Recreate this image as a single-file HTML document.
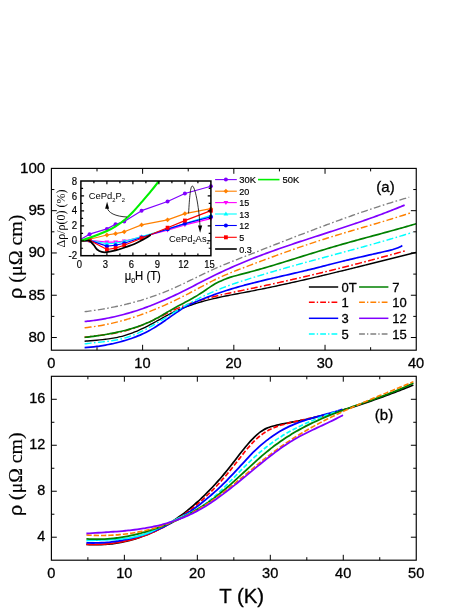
<!DOCTYPE html>
<html><head><meta charset="utf-8"><title>chart</title>
<style>html,body{margin:0;padding:0;background:#fff;width:471px;height:609px;overflow:hidden}</style>
</head><body>
<svg width="471" height="609" viewBox="0 0 471 609" style="position:absolute;left:0;top:0;will-change:transform;font-family:'Liberation Sans',sans-serif">
<style>text{stroke:#000;stroke-width:0.3px}text.n{stroke:none}text.l{stroke-width:0.18px}</style>
<rect width="471" height="609" fill="#fff"/>
<defs><clipPath id="ct"><rect x="51.40" y="168.40" width="364.85" height="181.80"/></clipPath>
<clipPath id="cb"><rect x="51.40" y="376.30" width="364.85" height="183.90"/></clipPath>
<clipPath id="ci"><rect x="80.90" y="181.00" width="130.00" height="74.70"/></clipPath>
<clipPath id="ci2"><rect x="80.90" y="181.00" width="132.50" height="74.70"/></clipPath></defs>
<g clip-path="url(#ct)" fill="none" stroke-linecap="butt" stroke-linejoin="round">
<path d="M84.60,341.18 C85.10,341.14 86.60,341.01 87.60,340.93 C88.60,340.84 89.60,340.76 90.60,340.68 C91.60,340.60 92.60,340.52 93.60,340.43 C94.60,340.35 95.60,340.27 96.60,340.18 C97.60,340.09 98.60,340.00 99.60,339.91 C100.60,339.81 101.60,339.71 102.60,339.61 C103.60,339.50 104.60,339.39 105.60,339.27 C106.60,339.14 107.60,339.02 108.60,338.88 C109.60,338.74 110.60,338.59 111.60,338.43 C112.60,338.27 113.60,338.10 114.60,337.91 C115.60,337.72 116.60,337.53 117.60,337.31 C118.60,337.10 119.60,336.87 120.60,336.63 C121.60,336.38 122.60,336.12 123.60,335.85 C124.60,335.57 125.60,335.27 126.60,334.95 C127.60,334.64 128.60,334.30 129.60,333.95 C130.60,333.60 131.60,333.23 132.60,332.84 C133.60,332.46 134.60,332.06 135.60,331.64 C136.60,331.23 137.60,330.80 138.60,330.35 C139.60,329.91 140.60,329.45 141.60,328.98 C142.60,328.52 143.60,328.03 144.60,327.54 C145.60,327.05 146.60,326.55 147.60,326.04 C148.60,325.53 149.60,325.01 150.60,324.48 C151.60,323.95 152.60,323.42 153.60,322.87 C154.60,322.33 155.60,321.78 156.60,321.23 C157.60,320.67 158.60,320.11 159.60,319.56 C160.60,319.00 161.60,318.44 162.60,317.88 C163.60,317.33 164.60,316.78 165.60,316.24 C166.60,315.70 167.60,315.16 168.60,314.64 C169.60,314.11 170.60,313.60 171.60,313.11 C172.60,312.61 173.60,312.13 174.60,311.66 C175.60,311.19 176.60,310.73 177.60,310.29 C178.60,309.84 179.60,309.41 180.60,308.99 C181.60,308.57 182.60,308.17 183.60,307.77 C184.60,307.37 185.60,306.99 186.60,306.61 C187.60,306.24 188.60,305.87 189.60,305.52 C190.60,305.17 191.60,304.82 192.60,304.49 C193.60,304.15 194.60,303.83 195.60,303.51 C196.60,303.19 197.60,302.89 198.60,302.59 C199.60,302.29 200.60,302.00 201.60,301.71 C202.60,301.43 203.60,301.16 204.60,300.89 C205.60,300.62 206.60,300.36 207.60,300.10 C208.60,299.84 209.60,299.60 210.60,299.35 C211.60,299.11 212.60,298.87 213.60,298.64 C214.60,298.41 215.60,298.18 216.60,297.96 C217.60,297.73 218.60,297.52 219.60,297.30 C220.60,297.09 221.60,296.88 222.60,296.67 C223.60,296.46 224.60,296.26 225.60,296.06 C226.60,295.86 227.60,295.66 228.60,295.47 C229.60,295.27 230.60,295.08 231.60,294.88 C232.60,294.69 233.60,294.50 234.60,294.31 C235.60,294.12 236.60,293.93 237.60,293.75 C238.60,293.56 239.60,293.37 240.60,293.18 C241.60,292.99 242.60,292.80 243.60,292.61 C244.60,292.42 245.60,292.23 246.60,292.04 C247.60,291.85 248.60,291.66 249.60,291.46 C250.60,291.27 251.60,291.07 252.60,290.88 C253.60,290.68 254.60,290.48 255.60,290.28 C256.60,290.09 257.60,289.89 258.60,289.68 C259.60,289.48 260.60,289.28 261.60,289.08 C262.60,288.87 263.60,288.67 264.60,288.46 C265.60,288.26 266.60,288.05 267.60,287.84 C268.60,287.64 269.60,287.43 270.60,287.22 C271.60,287.01 272.60,286.80 273.60,286.59 C274.60,286.37 275.60,286.16 276.60,285.95 C277.60,285.73 278.60,285.52 279.60,285.30 C280.60,285.09 281.60,284.87 282.60,284.65 C283.60,284.44 284.60,284.22 285.60,284.00 C286.60,283.78 287.60,283.56 288.60,283.34 C289.60,283.12 290.60,282.89 291.60,282.67 C292.60,282.45 293.60,282.23 294.60,282.00 C295.60,281.78 296.60,281.55 297.60,281.32 C298.60,281.10 299.60,280.87 300.60,280.64 C301.60,280.42 302.60,280.19 303.60,279.96 C304.60,279.73 305.60,279.50 306.60,279.27 C307.60,279.04 308.60,278.81 309.60,278.58 C310.60,278.34 311.60,278.11 312.60,277.88 C313.60,277.64 314.60,277.41 315.60,277.18 C316.60,276.94 317.60,276.71 318.60,276.47 C319.60,276.23 320.60,276.00 321.60,275.76 C322.60,275.52 323.60,275.29 324.60,275.05 C325.60,274.81 326.60,274.57 327.60,274.33 C328.60,274.09 329.60,273.85 330.60,273.61 C331.60,273.37 332.60,273.13 333.60,272.89 C334.60,272.65 335.60,272.41 336.60,272.16 C337.60,271.92 338.60,271.68 339.60,271.44 C340.60,271.19 341.60,270.95 342.60,270.71 C343.60,270.46 344.60,270.22 345.60,269.97 C346.60,269.73 347.60,269.48 348.60,269.24 C349.60,268.99 350.60,268.75 351.60,268.50 C352.60,268.25 353.60,268.01 354.60,267.76 C355.60,267.51 356.60,267.27 357.60,267.02 C358.60,266.77 359.60,266.52 360.60,266.28 C361.60,266.03 362.60,265.78 363.60,265.53 C364.60,265.28 365.60,265.04 366.60,264.79 C367.60,264.54 368.60,264.29 369.60,264.04 C370.60,263.79 371.60,263.54 372.60,263.29 C373.60,263.04 374.60,262.79 375.60,262.54 C376.60,262.29 377.60,262.04 378.60,261.79 C379.60,261.54 380.60,261.29 381.60,261.04 C382.60,260.79 383.60,260.54 384.60,260.29 C385.60,260.04 386.60,259.79 387.60,259.54 C388.60,259.29 389.60,259.04 390.60,258.79 C391.60,258.54 392.60,258.29 393.60,258.04 C394.60,257.79 395.60,257.54 396.60,257.29 C397.60,257.04 398.60,256.79 399.60,256.54 C400.60,256.29 401.60,256.04 402.60,255.79 C403.60,255.54 404.60,255.29 405.60,255.04 C406.60,254.79 407.60,254.54 408.60,254.29 C409.60,254.04 410.60,253.79 411.60,253.54 C412.60,253.29 413.83,252.99 414.60,252.80 C415.37,252.61 415.93,252.47 416.20,252.40" stroke="#000000" stroke-width="1.40"/>
<path d="M84.60,337.30 C85.10,337.23 86.60,337.02 87.60,336.89 C88.60,336.75 89.60,336.63 90.60,336.50 C91.60,336.37 92.60,336.24 93.60,336.12 C94.60,335.99 95.60,335.87 96.60,335.74 C97.60,335.62 98.60,335.50 99.60,335.37 C100.60,335.24 101.60,335.11 102.60,334.98 C103.60,334.85 104.60,334.71 105.60,334.57 C106.60,334.43 107.60,334.28 108.60,334.13 C109.60,333.98 110.60,333.82 111.60,333.66 C112.60,333.49 113.60,333.32 114.60,333.14 C115.60,332.96 116.60,332.77 117.60,332.57 C118.60,332.36 119.60,332.16 120.60,331.93 C121.60,331.71 122.60,331.48 123.60,331.23 C124.60,330.98 125.60,330.72 126.60,330.45 C127.60,330.17 128.60,329.89 129.60,329.59 C130.60,329.29 131.60,328.97 132.60,328.65 C133.60,328.32 134.60,327.98 135.60,327.63 C136.60,327.28 137.60,326.91 138.60,326.54 C139.60,326.16 140.60,325.78 141.60,325.38 C142.60,324.98 143.60,324.57 144.60,324.15 C145.60,323.73 146.60,323.30 147.60,322.86 C148.60,322.41 149.60,321.96 150.60,321.50 C151.60,321.04 152.60,320.56 153.60,320.08 C154.60,319.60 155.60,319.10 156.60,318.61 C157.60,318.11 158.60,317.60 159.60,317.09 C160.60,316.58 161.60,316.06 162.60,315.55 C163.60,315.04 164.60,314.52 165.60,314.02 C166.60,313.51 167.60,313.01 168.60,312.52 C169.60,312.03 170.60,311.55 171.60,311.07 C172.60,310.60 173.60,310.15 174.60,309.70 C175.60,309.25 176.60,308.81 177.60,308.39 C178.60,307.96 179.60,307.54 180.60,307.14 C181.60,306.73 182.60,306.33 183.60,305.95 C184.60,305.56 185.60,305.18 186.60,304.81 C187.60,304.44 188.60,304.09 189.60,303.73 C190.60,303.38 191.60,303.04 192.60,302.70 C193.60,302.37 194.60,302.04 195.60,301.72 C196.60,301.40 197.60,301.09 198.60,300.78 C199.60,300.48 200.60,300.18 201.60,299.89 C202.60,299.60 203.60,299.31 204.60,299.03 C205.60,298.75 206.60,298.48 207.60,298.21 C208.60,297.94 209.60,297.68 210.60,297.42 C211.60,297.17 212.60,296.91 213.60,296.67 C214.60,296.42 215.60,296.17 216.60,295.94 C217.60,295.70 218.60,295.46 219.60,295.23 C220.60,295.00 221.60,294.77 222.60,294.54 C223.60,294.32 224.60,294.10 225.60,293.88 C226.60,293.66 227.60,293.44 228.60,293.22 C229.60,293.01 230.60,292.80 231.60,292.59 C232.60,292.37 233.60,292.16 234.60,291.96 C235.60,291.75 236.60,291.54 237.60,291.33 C238.60,291.13 239.60,290.92 240.60,290.71 C241.60,290.51 242.60,290.30 243.60,290.09 C244.60,289.89 245.60,289.68 246.60,289.47 C247.60,289.27 248.60,289.06 249.60,288.85 C250.60,288.64 251.60,288.43 252.60,288.22 C253.60,288.01 254.60,287.80 255.60,287.59 C256.60,287.38 257.60,287.17 258.60,286.95 C259.60,286.74 260.60,286.53 261.60,286.31 C262.60,286.10 263.60,285.88 264.60,285.67 C265.60,285.45 266.60,285.24 267.60,285.02 C268.60,284.80 269.60,284.59 270.60,284.37 C271.60,284.15 272.60,283.93 273.60,283.71 C274.60,283.49 275.60,283.27 276.60,283.05 C277.60,282.83 278.60,282.61 279.60,282.39 C280.60,282.17 281.60,281.94 282.60,281.72 C283.60,281.50 284.60,281.27 285.60,281.05 C286.60,280.82 287.60,280.60 288.60,280.37 C289.60,280.15 290.60,279.92 291.60,279.69 C292.60,279.46 293.60,279.24 294.60,279.01 C295.60,278.78 296.60,278.55 297.60,278.32 C298.60,278.09 299.60,277.86 300.60,277.63 C301.60,277.40 302.60,277.16 303.60,276.93 C304.60,276.70 305.60,276.46 306.60,276.23 C307.60,276.00 308.60,275.76 309.60,275.53 C310.60,275.29 311.60,275.05 312.60,274.82 C313.60,274.58 314.60,274.34 315.60,274.10 C316.60,273.86 317.60,273.63 318.60,273.39 C319.60,273.15 320.60,272.90 321.60,272.66 C322.60,272.42 323.60,272.18 324.60,271.94 C325.60,271.69 326.60,271.45 327.60,271.21 C328.60,270.96 329.60,270.72 330.60,270.47 C331.60,270.23 332.60,269.98 333.60,269.73 C334.60,269.49 335.60,269.24 336.60,268.99 C337.60,268.74 338.60,268.49 339.60,268.24 C340.60,267.99 341.60,267.74 342.60,267.49 C343.60,267.24 344.60,266.99 345.60,266.74 C346.60,266.48 347.60,266.23 348.60,265.98 C349.60,265.72 350.60,265.47 351.60,265.21 C352.60,264.95 353.60,264.70 354.60,264.44 C355.60,264.18 356.60,263.93 357.60,263.67 C358.60,263.41 359.60,263.15 360.60,262.89 C361.60,262.63 362.60,262.37 363.60,262.11 C364.60,261.85 365.60,261.58 366.60,261.32 C367.60,261.06 368.60,260.79 369.60,260.53 C370.60,260.26 371.60,260.00 372.60,259.73 C373.60,259.47 374.60,259.20 375.60,258.93 C376.60,258.67 377.60,258.40 378.60,258.13 C379.60,257.86 380.60,257.59 381.60,257.32 C382.60,257.05 383.60,256.78 384.60,256.50 C385.60,256.23 386.60,255.96 387.60,255.69 C388.60,255.41 389.60,255.14 390.60,254.86 C391.60,254.59 392.60,254.31 393.60,254.04 C394.60,253.76 395.60,253.48 396.60,253.20 C397.60,252.92 398.60,252.65 399.60,252.37 C400.60,252.09 401.60,251.81 402.60,251.52 C403.60,251.24 404.87,250.89 405.60,250.68 C406.33,250.47 406.77,250.35 407.00,250.28" stroke="#ff0000" stroke-width="1.50" stroke-dasharray="7 2.4 1.6 2.4"/>
<path d="M84.60,347.57 C85.10,347.54 86.60,347.45 87.60,347.37 C88.60,347.29 89.60,347.21 90.60,347.12 C91.60,347.02 92.60,346.92 93.60,346.81 C94.60,346.70 95.60,346.59 96.60,346.46 C97.60,346.33 98.60,346.20 99.60,346.05 C100.60,345.91 101.60,345.76 102.60,345.60 C103.60,345.44 104.60,345.27 105.60,345.09 C106.60,344.91 107.60,344.72 108.60,344.52 C109.60,344.32 110.60,344.12 111.60,343.90 C112.60,343.69 113.60,343.46 114.60,343.23 C115.60,342.99 116.60,342.75 117.60,342.50 C118.60,342.24 119.60,341.98 120.60,341.71 C121.60,341.44 122.60,341.15 123.60,340.86 C124.60,340.57 125.60,340.27 126.60,339.96 C127.60,339.64 128.60,339.32 129.60,338.99 C130.60,338.65 131.60,338.31 132.60,337.95 C133.60,337.59 134.60,337.22 135.60,336.84 C136.60,336.45 137.60,336.05 138.60,335.64 C139.60,335.23 140.60,334.80 141.60,334.35 C142.60,333.91 143.60,333.44 144.60,332.96 C145.60,332.48 146.60,331.99 147.60,331.47 C148.60,330.96 149.60,330.42 150.60,329.87 C151.60,329.31 152.60,328.74 153.60,328.14 C154.60,327.55 155.60,326.93 156.60,326.29 C157.60,325.65 158.60,324.99 159.60,324.32 C160.60,323.65 161.60,322.96 162.60,322.27 C163.60,321.57 164.60,320.86 165.60,320.15 C166.60,319.44 167.60,318.72 168.60,318.01 C169.60,317.29 170.60,316.57 171.60,315.86 C172.60,315.15 173.60,314.44 174.60,313.74 C175.60,313.05 176.60,312.36 177.60,311.69 C178.60,311.01 179.60,310.35 180.60,309.72 C181.60,309.08 182.60,308.46 183.60,307.87 C184.60,307.28 185.60,306.72 186.60,306.18 C187.60,305.64 188.60,305.13 189.60,304.64 C190.60,304.15 191.60,303.68 192.60,303.23 C193.60,302.77 194.60,302.34 195.60,301.91 C196.60,301.49 197.60,301.08 198.60,300.67 C199.60,300.26 200.60,299.86 201.60,299.46 C202.60,299.06 203.60,298.66 204.60,298.27 C205.60,297.88 206.60,297.49 207.60,297.11 C208.60,296.73 209.60,296.35 210.60,295.98 C211.60,295.60 212.60,295.24 213.60,294.87 C214.60,294.51 215.60,294.15 216.60,293.80 C217.60,293.45 218.60,293.11 219.60,292.76 C220.60,292.42 221.60,292.09 222.60,291.76 C223.60,291.43 224.60,291.10 225.60,290.78 C226.60,290.46 227.60,290.15 228.60,289.83 C229.60,289.52 230.60,289.22 231.60,288.91 C232.60,288.61 233.60,288.31 234.60,288.02 C235.60,287.72 236.60,287.43 237.60,287.15 C238.60,286.86 239.60,286.58 240.60,286.30 C241.60,286.02 242.60,285.74 243.60,285.47 C244.60,285.19 245.60,284.93 246.60,284.66 C247.60,284.39 248.60,284.13 249.60,283.87 C250.60,283.61 251.60,283.35 252.60,283.09 C253.60,282.84 254.60,282.58 255.60,282.33 C256.60,282.08 257.60,281.83 258.60,281.59 C259.60,281.34 260.60,281.10 261.60,280.85 C262.60,280.61 263.60,280.37 264.60,280.13 C265.60,279.89 266.60,279.65 267.60,279.42 C268.60,279.18 269.60,278.94 270.60,278.71 C271.60,278.48 272.60,278.24 273.60,278.01 C274.60,277.78 275.60,277.55 276.60,277.31 C277.60,277.08 278.60,276.85 279.60,276.62 C280.60,276.39 281.60,276.16 282.60,275.93 C283.60,275.70 284.60,275.47 285.60,275.24 C286.60,275.01 287.60,274.78 288.60,274.55 C289.60,274.32 290.60,274.09 291.60,273.86 C292.60,273.63 293.60,273.40 294.60,273.16 C295.60,272.93 296.60,272.70 297.60,272.46 C298.60,272.23 299.60,271.99 300.60,271.75 C301.60,271.52 302.60,271.28 303.60,271.04 C304.60,270.80 305.60,270.56 306.60,270.31 C307.60,270.07 308.60,269.82 309.60,269.58 C310.60,269.33 311.60,269.08 312.60,268.83 C313.60,268.59 314.60,268.34 315.60,268.08 C316.60,267.83 317.60,267.58 318.60,267.33 C319.60,267.08 320.60,266.82 321.60,266.57 C322.60,266.32 323.60,266.06 324.60,265.81 C325.60,265.55 326.60,265.30 327.60,265.05 C328.60,264.79 329.60,264.54 330.60,264.28 C331.60,264.03 332.60,263.78 333.60,263.52 C334.60,263.27 335.60,263.02 336.60,262.77 C337.60,262.52 338.60,262.27 339.60,262.02 C340.60,261.77 341.60,261.52 342.60,261.27 C343.60,261.02 344.60,260.78 345.60,260.53 C346.60,260.29 347.60,260.05 348.60,259.81 C349.60,259.56 350.60,259.32 351.60,259.09 C352.60,258.85 353.60,258.61 354.60,258.38 C355.60,258.15 356.60,257.91 357.60,257.68 C358.60,257.45 359.60,257.22 360.60,256.99 C361.60,256.76 362.60,256.53 363.60,256.31 C364.60,256.08 365.60,255.85 366.60,255.63 C367.60,255.40 368.60,255.17 369.60,254.95 C370.60,254.72 371.60,254.50 372.60,254.27 C373.60,254.04 374.60,253.82 375.60,253.59 C376.60,253.37 377.60,253.14 378.60,252.91 C379.60,252.68 380.60,252.46 381.60,252.23 C382.60,252.00 383.60,251.77 384.60,251.54 C385.60,251.30 386.60,251.07 387.60,250.84 C388.60,250.60 389.60,250.37 390.60,250.12 C391.60,249.87 392.60,249.61 393.60,249.31 C394.60,249.01 395.60,248.69 396.60,248.31 C397.60,247.93 398.65,247.49 399.60,247.03 C400.55,246.57 401.85,245.79 402.30,245.55" stroke="#0000ff" stroke-width="1.70"/>
<path d="M84.60,343.88 C85.10,343.81 86.60,343.60 87.60,343.48 C88.60,343.35 89.60,343.23 90.60,343.12 C91.60,343.01 92.60,342.90 93.60,342.79 C94.60,342.69 95.60,342.59 96.60,342.49 C97.60,342.39 98.60,342.29 99.60,342.19 C100.60,342.09 101.60,341.99 102.60,341.88 C103.60,341.77 104.60,341.67 105.60,341.55 C106.60,341.43 107.60,341.31 108.60,341.18 C109.60,341.05 110.60,340.92 111.60,340.77 C112.60,340.62 113.60,340.46 114.60,340.28 C115.60,340.11 116.60,339.93 117.60,339.72 C118.60,339.52 119.60,339.31 120.60,339.07 C121.60,338.84 122.60,338.59 123.60,338.32 C124.60,338.05 125.60,337.76 126.60,337.44 C127.60,337.13 128.60,336.80 129.60,336.45 C130.60,336.09 131.60,335.72 132.60,335.33 C133.60,334.94 134.60,334.54 135.60,334.11 C136.60,333.69 137.60,333.25 138.60,332.79 C139.60,332.34 140.60,331.87 141.60,331.39 C142.60,330.90 143.60,330.40 144.60,329.89 C145.60,329.38 146.60,328.86 147.60,328.33 C148.60,327.79 149.60,327.25 150.60,326.69 C151.60,326.14 152.60,325.57 153.60,325.00 C154.60,324.43 155.60,323.85 156.60,323.26 C157.60,322.67 158.60,322.07 159.60,321.47 C160.60,320.87 161.60,320.26 162.60,319.65 C163.60,319.04 164.60,318.43 165.60,317.81 C166.60,317.19 167.60,316.57 168.60,315.95 C169.60,315.33 170.60,314.70 171.60,314.08 C172.60,313.45 173.60,312.83 174.60,312.20 C175.60,311.58 176.60,310.96 177.60,310.35 C178.60,309.73 179.60,309.12 180.60,308.51 C181.60,307.91 182.60,307.31 183.60,306.72 C184.60,306.13 185.60,305.54 186.60,304.97 C187.60,304.40 188.60,303.83 189.60,303.28 C190.60,302.72 191.60,302.18 192.60,301.64 C193.60,301.11 194.60,300.58 195.60,300.06 C196.60,299.54 197.60,299.03 198.60,298.53 C199.60,298.03 200.60,297.53 201.60,297.05 C202.60,296.56 203.60,296.09 204.60,295.62 C205.60,295.15 206.60,294.69 207.60,294.23 C208.60,293.78 209.60,293.33 210.60,292.89 C211.60,292.45 212.60,292.01 213.60,291.58 C214.60,291.16 215.60,290.73 216.60,290.32 C217.60,289.90 218.60,289.49 219.60,289.09 C220.60,288.68 221.60,288.29 222.60,287.89 C223.60,287.50 224.60,287.12 225.60,286.74 C226.60,286.36 227.60,285.99 228.60,285.62 C229.60,285.25 230.60,284.89 231.60,284.54 C232.60,284.19 233.60,283.84 234.60,283.50 C235.60,283.16 236.60,282.82 237.60,282.49 C238.60,282.16 239.60,281.83 240.60,281.51 C241.60,281.18 242.60,280.86 243.60,280.54 C244.60,280.22 245.60,279.90 246.60,279.59 C247.60,279.27 248.60,278.96 249.60,278.65 C250.60,278.33 251.60,278.02 252.60,277.71 C253.60,277.41 254.60,277.10 255.60,276.79 C256.60,276.49 257.60,276.18 258.60,275.88 C259.60,275.57 260.60,275.27 261.60,274.97 C262.60,274.67 263.60,274.37 264.60,274.07 C265.60,273.78 266.60,273.48 267.60,273.18 C268.60,272.89 269.60,272.59 270.60,272.30 C271.60,272.01 272.60,271.72 273.60,271.43 C274.60,271.14 275.60,270.85 276.60,270.56 C277.60,270.27 278.60,269.98 279.60,269.70 C280.60,269.41 281.60,269.12 282.60,268.84 C283.60,268.56 284.60,268.27 285.60,267.99 C286.60,267.71 287.60,267.42 288.60,267.14 C289.60,266.86 290.60,266.58 291.60,266.30 C292.60,266.02 293.60,265.75 294.60,265.47 C295.60,265.19 296.60,264.91 297.60,264.64 C298.60,264.36 299.60,264.08 300.60,263.81 C301.60,263.53 302.60,263.26 303.60,262.98 C304.60,262.71 305.60,262.44 306.60,262.16 C307.60,261.89 308.60,261.62 309.60,261.35 C310.60,261.07 311.60,260.80 312.60,260.53 C313.60,260.26 314.60,259.99 315.60,259.72 C316.60,259.45 317.60,259.18 318.60,258.91 C319.60,258.63 320.60,258.36 321.60,258.09 C322.60,257.82 323.60,257.56 324.60,257.29 C325.60,257.02 326.60,256.75 327.60,256.48 C328.60,256.21 329.60,255.94 330.60,255.67 C331.60,255.40 332.60,255.13 333.60,254.86 C334.60,254.59 335.60,254.32 336.60,254.05 C337.60,253.78 338.60,253.51 339.60,253.24 C340.60,252.97 341.60,252.70 342.60,252.43 C343.60,252.16 344.60,251.89 345.60,251.62 C346.60,251.35 347.60,251.08 348.60,250.81 C349.60,250.54 350.60,250.26 351.60,249.99 C352.60,249.72 353.60,249.45 354.60,249.17 C355.60,248.90 356.60,248.63 357.60,248.35 C358.60,248.08 359.60,247.80 360.60,247.53 C361.60,247.25 362.60,246.98 363.60,246.70 C364.60,246.42 365.60,246.15 366.60,245.87 C367.60,245.59 368.60,245.31 369.60,245.03 C370.60,244.75 371.60,244.47 372.60,244.19 C373.60,243.91 374.60,243.63 375.60,243.35 C376.60,243.07 377.60,242.78 378.60,242.50 C379.60,242.21 380.60,241.93 381.60,241.64 C382.60,241.36 383.60,241.07 384.60,240.78 C385.60,240.49 386.60,240.20 387.60,239.91 C388.60,239.62 389.60,239.33 390.60,239.04 C391.60,238.74 392.60,238.45 393.60,238.15 C394.60,237.86 395.60,237.56 396.60,237.26 C397.60,236.97 398.60,236.67 399.60,236.37 C400.60,236.07 401.60,235.76 402.60,235.46 C403.60,235.16 404.60,234.85 405.60,234.55 C406.60,234.24 407.60,233.93 408.60,233.62 C409.60,233.31 410.95,232.89 411.60,232.69 C412.25,232.49 412.35,232.46 412.50,232.41" stroke="#00ffff" stroke-width="1.45" stroke-dasharray="7 2.4 1.6 2.4"/>
<path d="M84.60,337.39 C85.10,337.33 86.60,337.18 87.60,337.06 C88.60,336.95 89.60,336.84 90.60,336.71 C91.60,336.59 92.60,336.47 93.60,336.34 C94.60,336.21 95.60,336.07 96.60,335.93 C97.60,335.79 98.60,335.64 99.60,335.49 C100.60,335.34 101.60,335.19 102.60,335.02 C103.60,334.86 104.60,334.70 105.60,334.52 C106.60,334.35 107.60,334.17 108.60,333.98 C109.60,333.80 110.60,333.61 111.60,333.41 C112.60,333.21 113.60,333.01 114.60,332.80 C115.60,332.59 116.60,332.37 117.60,332.15 C118.60,331.93 119.60,331.70 120.60,331.46 C121.60,331.22 122.60,330.98 123.60,330.73 C124.60,330.48 125.60,330.22 126.60,329.95 C127.60,329.69 128.60,329.42 129.60,329.13 C130.60,328.85 131.60,328.56 132.60,328.26 C133.60,327.95 134.60,327.64 135.60,327.32 C136.60,326.99 137.60,326.66 138.60,326.31 C139.60,325.96 140.60,325.60 141.60,325.22 C142.60,324.84 143.60,324.46 144.60,324.05 C145.60,323.64 146.60,323.22 147.60,322.78 C148.60,322.35 149.60,321.89 150.60,321.42 C151.60,320.94 152.60,320.45 153.60,319.94 C154.60,319.43 155.60,318.90 156.60,318.35 C157.60,317.81 158.60,317.24 159.60,316.66 C160.60,316.09 161.60,315.50 162.60,314.91 C163.60,314.32 164.60,313.72 165.60,313.13 C166.60,312.54 167.60,311.94 168.60,311.36 C169.60,310.78 170.60,310.20 171.60,309.64 C172.60,309.08 173.60,308.52 174.60,307.98 C175.60,307.43 176.60,306.89 177.60,306.36 C178.60,305.82 179.60,305.29 180.60,304.76 C181.60,304.23 182.60,303.70 183.60,303.17 C184.60,302.64 185.60,302.10 186.60,301.57 C187.60,301.03 188.60,300.48 189.60,299.93 C190.60,299.38 191.60,298.82 192.60,298.24 C193.60,297.67 194.60,297.09 195.60,296.49 C196.60,295.89 197.60,295.28 198.60,294.65 C199.60,294.02 200.60,293.37 201.60,292.71 C202.60,292.05 203.60,291.37 204.60,290.69 C205.60,290.02 206.60,289.33 207.60,288.66 C208.60,287.98 209.60,287.31 210.60,286.66 C211.60,286.02 212.60,285.38 213.60,284.78 C214.60,284.18 215.60,283.61 216.60,283.07 C217.60,282.53 218.60,282.03 219.60,281.55 C220.60,281.07 221.60,280.62 222.60,280.19 C223.60,279.77 224.60,279.37 225.60,278.99 C226.60,278.61 227.60,278.25 228.60,277.91 C229.60,277.57 230.60,277.25 231.60,276.93 C232.60,276.62 233.60,276.33 234.60,276.04 C235.60,275.75 236.60,275.48 237.60,275.21 C238.60,274.94 239.60,274.68 240.60,274.42 C241.60,274.16 242.60,273.90 243.60,273.64 C244.60,273.38 245.60,273.12 246.60,272.86 C247.60,272.60 248.60,272.33 249.60,272.06 C250.60,271.80 251.60,271.52 252.60,271.25 C253.60,270.98 254.60,270.70 255.60,270.42 C256.60,270.15 257.60,269.86 258.60,269.58 C259.60,269.30 260.60,269.01 261.60,268.73 C262.60,268.44 263.60,268.15 264.60,267.86 C265.60,267.57 266.60,267.28 267.60,266.98 C268.60,266.69 269.60,266.39 270.60,266.10 C271.60,265.80 272.60,265.50 273.60,265.20 C274.60,264.90 275.60,264.60 276.60,264.29 C277.60,263.99 278.60,263.69 279.60,263.38 C280.60,263.08 281.60,262.77 282.60,262.46 C283.60,262.15 284.60,261.85 285.60,261.54 C286.60,261.23 287.60,260.92 288.60,260.61 C289.60,260.30 290.60,259.99 291.60,259.67 C292.60,259.36 293.60,259.05 294.60,258.74 C295.60,258.43 296.60,258.11 297.60,257.80 C298.60,257.49 299.60,257.18 300.60,256.86 C301.60,256.55 302.60,256.24 303.60,255.92 C304.60,255.61 305.60,255.30 306.60,254.99 C307.60,254.67 308.60,254.36 309.60,254.05 C310.60,253.74 311.60,253.43 312.60,253.12 C313.60,252.81 314.60,252.50 315.60,252.19 C316.60,251.88 317.60,251.57 318.60,251.27 C319.60,250.96 320.60,250.65 321.60,250.35 C322.60,250.04 323.60,249.74 324.60,249.44 C325.60,249.14 326.60,248.83 327.60,248.53 C328.60,248.23 329.60,247.94 330.60,247.64 C331.60,247.34 332.60,247.05 333.60,246.75 C334.60,246.46 335.60,246.17 336.60,245.88 C337.60,245.59 338.60,245.30 339.60,245.01 C340.60,244.73 341.60,244.44 342.60,244.16 C343.60,243.87 344.60,243.59 345.60,243.31 C346.60,243.03 347.60,242.75 348.60,242.47 C349.60,242.19 350.60,241.92 351.60,241.64 C352.60,241.36 353.60,241.09 354.60,240.82 C355.60,240.54 356.60,240.27 357.60,239.99 C358.60,239.72 359.60,239.45 360.60,239.18 C361.60,238.91 362.60,238.64 363.60,238.37 C364.60,238.09 365.60,237.82 366.60,237.55 C367.60,237.28 368.60,237.01 369.60,236.75 C370.60,236.48 371.60,236.21 372.60,235.94 C373.60,235.67 374.60,235.40 375.60,235.13 C376.60,234.86 377.60,234.59 378.60,234.32 C379.60,234.05 380.60,233.78 381.60,233.51 C382.60,233.24 383.60,232.97 384.60,232.69 C385.60,232.42 386.60,232.15 387.60,231.87 C388.60,231.60 389.60,231.33 390.60,231.05 C391.60,230.78 392.60,230.50 393.60,230.22 C394.60,229.95 395.60,229.67 396.60,229.39 C397.60,229.11 398.60,228.83 399.60,228.55 C400.60,228.27 401.60,227.98 402.60,227.70 C403.60,227.41 404.60,227.13 405.60,226.84 C406.60,226.55 407.60,226.26 408.60,225.97 C409.60,225.68 410.60,225.38 411.60,225.09 C412.60,224.79 413.83,224.43 414.60,224.20 C415.37,223.97 415.93,223.80 416.20,223.72" stroke="#008000" stroke-width="1.70"/>
<path d="M84.60,327.72 C85.10,327.67 86.60,327.53 87.60,327.42 C88.60,327.31 89.60,327.19 90.60,327.07 C91.60,326.94 92.60,326.81 93.60,326.67 C94.60,326.53 95.60,326.38 96.60,326.23 C97.60,326.08 98.60,325.91 99.60,325.74 C100.60,325.57 101.60,325.40 102.60,325.21 C103.60,325.03 104.60,324.84 105.60,324.64 C106.60,324.44 107.60,324.23 108.60,324.02 C109.60,323.81 110.60,323.59 111.60,323.36 C112.60,323.13 113.60,322.90 114.60,322.66 C115.60,322.41 116.60,322.17 117.60,321.91 C118.60,321.66 119.60,321.39 120.60,321.12 C121.60,320.86 122.60,320.58 123.60,320.30 C124.60,320.02 125.60,319.73 126.60,319.43 C127.60,319.14 128.60,318.83 129.60,318.53 C130.60,318.22 131.60,317.90 132.60,317.58 C133.60,317.26 134.60,316.93 135.60,316.60 C136.60,316.26 137.60,315.92 138.60,315.57 C139.60,315.23 140.60,314.87 141.60,314.52 C142.60,314.16 143.60,313.79 144.60,313.42 C145.60,313.05 146.60,312.67 147.60,312.29 C148.60,311.90 149.60,311.51 150.60,311.12 C151.60,310.72 152.60,310.32 153.60,309.92 C154.60,309.51 155.60,309.10 156.60,308.68 C157.60,308.26 158.60,307.83 159.60,307.40 C160.60,306.97 161.60,306.54 162.60,306.10 C163.60,305.66 164.60,305.21 165.60,304.76 C166.60,304.31 167.60,303.85 168.60,303.39 C169.60,302.93 170.60,302.46 171.60,301.98 C172.60,301.51 173.60,301.03 174.60,300.55 C175.60,300.07 176.60,299.58 177.60,299.09 C178.60,298.59 179.60,298.10 180.60,297.60 C181.60,297.10 182.60,296.59 183.60,296.09 C184.60,295.58 185.60,295.07 186.60,294.55 C187.60,294.04 188.60,293.52 189.60,293.00 C190.60,292.48 191.60,291.96 192.60,291.43 C193.60,290.91 194.60,290.38 195.60,289.85 C196.60,289.32 197.60,288.79 198.60,288.26 C199.60,287.73 200.60,287.19 201.60,286.66 C202.60,286.13 203.60,285.59 204.60,285.06 C205.60,284.53 206.60,284.00 207.60,283.48 C208.60,282.95 209.60,282.43 210.60,281.92 C211.60,281.41 212.60,280.90 213.60,280.41 C214.60,279.91 215.60,279.42 216.60,278.95 C217.60,278.47 218.60,278.00 219.60,277.54 C220.60,277.08 221.60,276.63 222.60,276.19 C223.60,275.75 224.60,275.31 225.60,274.88 C226.60,274.46 227.60,274.04 228.60,273.62 C229.60,273.20 230.60,272.79 231.60,272.39 C232.60,271.98 233.60,271.58 234.60,271.19 C235.60,270.79 236.60,270.40 237.60,270.01 C238.60,269.62 239.60,269.24 240.60,268.85 C241.60,268.47 242.60,268.08 243.60,267.70 C244.60,267.32 245.60,266.94 246.60,266.56 C247.60,266.18 248.60,265.80 249.60,265.42 C250.60,265.04 251.60,264.67 252.60,264.29 C253.60,263.91 254.60,263.53 255.60,263.16 C256.60,262.78 257.60,262.41 258.60,262.03 C259.60,261.66 260.60,261.28 261.60,260.91 C262.60,260.54 263.60,260.16 264.60,259.79 C265.60,259.42 266.60,259.05 267.60,258.68 C268.60,258.31 269.60,257.94 270.60,257.57 C271.60,257.20 272.60,256.84 273.60,256.47 C274.60,256.10 275.60,255.74 276.60,255.38 C277.60,255.01 278.60,254.65 279.60,254.29 C280.60,253.92 281.60,253.56 282.60,253.20 C283.60,252.85 284.60,252.49 285.60,252.13 C286.60,251.77 287.60,251.42 288.60,251.06 C289.60,250.71 290.60,250.36 291.60,250.00 C292.60,249.65 293.60,249.30 294.60,248.95 C295.60,248.60 296.60,248.26 297.60,247.91 C298.60,247.57 299.60,247.22 300.60,246.88 C301.60,246.54 302.60,246.19 303.60,245.85 C304.60,245.51 305.60,245.18 306.60,244.84 C307.60,244.50 308.60,244.17 309.60,243.83 C310.60,243.50 311.60,243.17 312.60,242.84 C313.60,242.51 314.60,242.18 315.60,241.86 C316.60,241.53 317.60,241.21 318.60,240.88 C319.60,240.56 320.60,240.24 321.60,239.92 C322.60,239.60 323.60,239.29 324.60,238.97 C325.60,238.66 326.60,238.34 327.60,238.03 C328.60,237.72 329.60,237.41 330.60,237.10 C331.60,236.79 332.60,236.48 333.60,236.18 C334.60,235.87 335.60,235.57 336.60,235.26 C337.60,234.96 338.60,234.66 339.60,234.35 C340.60,234.05 341.60,233.75 342.60,233.45 C343.60,233.15 344.60,232.85 345.60,232.56 C346.60,232.26 347.60,231.96 348.60,231.66 C349.60,231.37 350.60,231.07 351.60,230.78 C352.60,230.48 353.60,230.18 354.60,229.89 C355.60,229.60 356.60,229.30 357.60,229.01 C358.60,228.71 359.60,228.42 360.60,228.12 C361.60,227.83 362.60,227.54 363.60,227.24 C364.60,226.95 365.60,226.65 366.60,226.36 C367.60,226.07 368.60,225.77 369.60,225.48 C370.60,225.18 371.60,224.89 372.60,224.59 C373.60,224.30 374.60,224.00 375.60,223.70 C376.60,223.41 377.60,223.11 378.60,222.81 C379.60,222.51 380.60,222.22 381.60,221.92 C382.60,221.62 383.60,221.32 384.60,221.02 C385.60,220.71 386.60,220.41 387.60,220.11 C388.60,219.80 389.60,219.50 390.60,219.19 C391.60,218.89 392.60,218.58 393.60,218.27 C394.60,217.96 395.60,217.65 396.60,217.34 C397.60,217.03 398.60,216.72 399.60,216.40 C400.60,216.09 401.60,215.77 402.60,215.45 C403.60,215.13 404.60,214.81 405.60,214.49 C406.60,214.17 407.67,213.82 408.60,213.52 C409.53,213.21 410.77,212.81 411.20,212.67" stroke="#ff8000" stroke-width="1.45" stroke-dasharray="7 2.4 1.6 2.4"/>
<path d="M84.60,321.48 C85.10,321.43 86.60,321.29 87.60,321.19 C88.60,321.09 89.60,320.98 90.60,320.86 C91.60,320.74 92.60,320.62 93.60,320.49 C94.60,320.35 95.60,320.22 96.60,320.07 C97.60,319.92 98.60,319.77 99.60,319.61 C100.60,319.45 101.60,319.29 102.60,319.11 C103.60,318.94 104.60,318.76 105.60,318.57 C106.60,318.39 107.60,318.19 108.60,317.99 C109.60,317.79 110.60,317.58 111.60,317.37 C112.60,317.15 113.60,316.93 114.60,316.71 C115.60,316.48 116.60,316.24 117.60,316.00 C118.60,315.76 119.60,315.51 120.60,315.26 C121.60,315.00 122.60,314.74 123.60,314.48 C124.60,314.21 125.60,313.93 126.60,313.65 C127.60,313.37 128.60,313.08 129.60,312.79 C130.60,312.50 131.60,312.20 132.60,311.89 C133.60,311.58 134.60,311.27 135.60,310.95 C136.60,310.63 137.60,310.31 138.60,309.97 C139.60,309.64 140.60,309.30 141.60,308.96 C142.60,308.61 143.60,308.26 144.60,307.91 C145.60,307.55 146.60,307.18 147.60,306.81 C148.60,306.44 149.60,306.07 150.60,305.69 C151.60,305.30 152.60,304.92 153.60,304.52 C154.60,304.13 155.60,303.73 156.60,303.32 C157.60,302.91 158.60,302.50 159.60,302.08 C160.60,301.66 161.60,301.24 162.60,300.81 C163.60,300.38 164.60,299.94 165.60,299.50 C166.60,299.06 167.60,298.61 168.60,298.15 C169.60,297.70 170.60,297.24 171.60,296.77 C172.60,296.31 173.60,295.84 174.60,295.36 C175.60,294.88 176.60,294.40 177.60,293.92 C178.60,293.43 179.60,292.94 180.60,292.45 C181.60,291.96 182.60,291.46 183.60,290.96 C184.60,290.46 185.60,289.96 186.60,289.45 C187.60,288.95 188.60,288.44 189.60,287.93 C190.60,287.42 191.60,286.91 192.60,286.40 C193.60,285.89 194.60,285.38 195.60,284.87 C196.60,284.36 197.60,283.84 198.60,283.33 C199.60,282.82 200.60,282.31 201.60,281.80 C202.60,281.29 203.60,280.78 204.60,280.27 C205.60,279.77 206.60,279.26 207.60,278.76 C208.60,278.25 209.60,277.75 210.60,277.26 C211.60,276.76 212.60,276.26 213.60,275.77 C214.60,275.28 215.60,274.80 216.60,274.31 C217.60,273.83 218.60,273.35 219.60,272.88 C220.60,272.40 221.60,271.93 222.60,271.47 C223.60,271.00 224.60,270.54 225.60,270.08 C226.60,269.62 227.60,269.16 228.60,268.71 C229.60,268.26 230.60,267.81 231.60,267.37 C232.60,266.93 233.60,266.49 234.60,266.05 C235.60,265.61 236.60,265.18 237.60,264.75 C238.60,264.32 239.60,263.90 240.60,263.48 C241.60,263.05 242.60,262.63 243.60,262.22 C244.60,261.80 245.60,261.39 246.60,260.99 C247.60,260.58 248.60,260.17 249.60,259.77 C250.60,259.37 251.60,258.97 252.60,258.58 C253.60,258.18 254.60,257.79 255.60,257.40 C256.60,257.01 257.60,256.62 258.60,256.24 C259.60,255.86 260.60,255.48 261.60,255.10 C262.60,254.72 263.60,254.35 264.60,253.97 C265.60,253.60 266.60,253.23 267.60,252.86 C268.60,252.49 269.60,252.13 270.60,251.77 C271.60,251.40 272.60,251.04 273.60,250.68 C274.60,250.33 275.60,249.97 276.60,249.62 C277.60,249.26 278.60,248.91 279.60,248.56 C280.60,248.21 281.60,247.86 282.60,247.51 C283.60,247.17 284.60,246.82 285.60,246.48 C286.60,246.13 287.60,245.79 288.60,245.45 C289.60,245.11 290.60,244.77 291.60,244.44 C292.60,244.10 293.60,243.76 294.60,243.43 C295.60,243.09 296.60,242.76 297.60,242.43 C298.60,242.10 299.60,241.76 300.60,241.43 C301.60,241.10 302.60,240.78 303.60,240.45 C304.60,240.12 305.60,239.79 306.60,239.46 C307.60,239.14 308.60,238.81 309.60,238.48 C310.60,238.16 311.60,237.83 312.60,237.51 C313.60,237.18 314.60,236.86 315.60,236.54 C316.60,236.21 317.60,235.89 318.60,235.57 C319.60,235.24 320.60,234.92 321.60,234.60 C322.60,234.27 323.60,233.95 324.60,233.63 C325.60,233.30 326.60,232.98 327.60,232.65 C328.60,232.33 329.60,232.01 330.60,231.68 C331.60,231.36 332.60,231.03 333.60,230.71 C334.60,230.38 335.60,230.06 336.60,229.73 C337.60,229.41 338.60,229.08 339.60,228.75 C340.60,228.42 341.60,228.10 342.60,227.77 C343.60,227.44 344.60,227.11 345.60,226.78 C346.60,226.44 347.60,226.11 348.60,225.78 C349.60,225.45 350.60,225.11 351.60,224.78 C352.60,224.44 353.60,224.10 354.60,223.76 C355.60,223.42 356.60,223.09 357.60,222.74 C358.60,222.40 359.60,222.06 360.60,221.71 C361.60,221.37 362.60,221.02 363.60,220.67 C364.60,220.33 365.60,219.98 366.60,219.62 C367.60,219.27 368.60,218.92 369.60,218.56 C370.60,218.21 371.60,217.85 372.60,217.49 C373.60,217.13 374.60,216.76 375.60,216.40 C376.60,216.03 377.60,215.67 378.60,215.30 C379.60,214.93 380.60,214.55 381.60,214.18 C382.60,213.80 383.60,213.43 384.60,213.05 C385.60,212.67 386.60,212.28 387.60,211.90 C388.60,211.51 389.60,211.12 390.60,210.73 C391.60,210.34 392.60,209.94 393.60,209.55 C394.60,209.15 395.60,208.75 396.60,208.34 C397.60,207.94 398.60,207.53 399.60,207.12 C400.60,206.71 401.77,206.22 402.60,205.87 C403.43,205.53 404.27,205.17 404.60,205.03" stroke="#8000ff" stroke-width="1.70"/>
<path d="M84.60,311.70 C85.10,311.64 86.60,311.45 87.60,311.32 C88.60,311.19 89.60,311.06 90.60,310.92 C91.60,310.79 92.60,310.65 93.60,310.50 C94.60,310.36 95.60,310.21 96.60,310.06 C97.60,309.91 98.60,309.75 99.60,309.59 C100.60,309.43 101.60,309.27 102.60,309.10 C103.60,308.93 104.60,308.76 105.60,308.58 C106.60,308.40 107.60,308.22 108.60,308.03 C109.60,307.84 110.60,307.65 111.60,307.46 C112.60,307.26 113.60,307.06 114.60,306.85 C115.60,306.65 116.60,306.44 117.60,306.22 C118.60,306.01 119.60,305.79 120.60,305.56 C121.60,305.34 122.60,305.11 123.60,304.87 C124.60,304.64 125.60,304.40 126.60,304.15 C127.60,303.90 128.60,303.65 129.60,303.40 C130.60,303.14 131.60,302.88 132.60,302.61 C133.60,302.34 134.60,302.07 135.60,301.79 C136.60,301.51 137.60,301.22 138.60,300.93 C139.60,300.64 140.60,300.35 141.60,300.04 C142.60,299.74 143.60,299.43 144.60,299.12 C145.60,298.80 146.60,298.48 147.60,298.16 C148.60,297.83 149.60,297.50 150.60,297.16 C151.60,296.82 152.60,296.47 153.60,296.12 C154.60,295.77 155.60,295.41 156.60,295.04 C157.60,294.68 158.60,294.31 159.60,293.93 C160.60,293.55 161.60,293.16 162.60,292.77 C163.60,292.38 164.60,291.98 165.60,291.58 C166.60,291.17 167.60,290.76 168.60,290.34 C169.60,289.92 170.60,289.49 171.60,289.06 C172.60,288.62 173.60,288.18 174.60,287.73 C175.60,287.29 176.60,286.84 177.60,286.38 C178.60,285.92 179.60,285.46 180.60,284.99 C181.60,284.52 182.60,284.05 183.60,283.58 C184.60,283.11 185.60,282.63 186.60,282.15 C187.60,281.67 188.60,281.19 189.60,280.70 C190.60,280.22 191.60,279.73 192.60,279.25 C193.60,278.76 194.60,278.28 195.60,277.79 C196.60,277.30 197.60,276.82 198.60,276.33 C199.60,275.85 200.60,275.36 201.60,274.88 C202.60,274.40 203.60,273.92 204.60,273.44 C205.60,272.97 206.60,272.49 207.60,272.02 C208.60,271.55 209.60,271.08 210.60,270.62 C211.60,270.16 212.60,269.70 213.60,269.25 C214.60,268.80 215.60,268.35 216.60,267.91 C217.60,267.47 218.60,267.04 219.60,266.61 C220.60,266.17 221.60,265.75 222.60,265.33 C223.60,264.91 224.60,264.49 225.60,264.08 C226.60,263.67 227.60,263.26 228.60,262.85 C229.60,262.44 230.60,262.04 231.60,261.64 C232.60,261.24 233.60,260.84 234.60,260.45 C235.60,260.05 236.60,259.66 237.60,259.26 C238.60,258.87 239.60,258.48 240.60,258.09 C241.60,257.70 242.60,257.31 243.60,256.92 C244.60,256.53 245.60,256.14 246.60,255.75 C247.60,255.36 248.60,254.97 249.60,254.58 C250.60,254.18 251.60,253.79 252.60,253.40 C253.60,253.01 254.60,252.62 255.60,252.23 C256.60,251.84 257.60,251.44 258.60,251.05 C259.60,250.66 260.60,250.27 261.60,249.88 C262.60,249.48 263.60,249.09 264.60,248.70 C265.60,248.31 266.60,247.92 267.60,247.52 C268.60,247.13 269.60,246.74 270.60,246.35 C271.60,245.96 272.60,245.57 273.60,245.17 C274.60,244.78 275.60,244.39 276.60,244.00 C277.60,243.61 278.60,243.22 279.60,242.83 C280.60,242.44 281.60,242.05 282.60,241.66 C283.60,241.27 284.60,240.88 285.60,240.49 C286.60,240.10 287.60,239.71 288.60,239.32 C289.60,238.93 290.60,238.54 291.60,238.15 C292.60,237.76 293.60,237.38 294.60,236.99 C295.60,236.60 296.60,236.21 297.60,235.83 C298.60,235.44 299.60,235.06 300.60,234.67 C301.60,234.29 302.60,233.90 303.60,233.52 C304.60,233.13 305.60,232.75 306.60,232.37 C307.60,231.99 308.60,231.60 309.60,231.22 C310.60,230.84 311.60,230.46 312.60,230.08 C313.60,229.70 314.60,229.32 315.60,228.94 C316.60,228.56 317.60,228.19 318.60,227.81 C319.60,227.43 320.60,227.06 321.60,226.68 C322.60,226.31 323.60,225.93 324.60,225.56 C325.60,225.19 326.60,224.81 327.60,224.44 C328.60,224.07 329.60,223.70 330.60,223.33 C331.60,222.96 332.60,222.59 333.60,222.23 C334.60,221.86 335.60,221.49 336.60,221.13 C337.60,220.76 338.60,220.40 339.60,220.04 C340.60,219.68 341.60,219.31 342.60,218.95 C343.60,218.59 344.60,218.23 345.60,217.88 C346.60,217.52 347.60,217.16 348.60,216.81 C349.60,216.45 350.60,216.10 351.60,215.74 C352.60,215.39 353.60,215.04 354.60,214.69 C355.60,214.34 356.60,213.99 357.60,213.65 C358.60,213.30 359.60,212.95 360.60,212.61 C361.60,212.26 362.60,211.92 363.60,211.58 C364.60,211.24 365.60,210.90 366.60,210.56 C367.60,210.22 368.60,209.89 369.60,209.55 C370.60,209.22 371.60,208.89 372.60,208.55 C373.60,208.22 374.60,207.89 375.60,207.57 C376.60,207.24 377.60,206.91 378.60,206.59 C379.60,206.26 380.60,205.94 381.60,205.62 C382.60,205.30 383.60,204.98 384.60,204.66 C385.60,204.34 386.60,204.03 387.60,203.71 C388.60,203.40 389.60,203.09 390.60,202.78 C391.60,202.47 392.60,202.16 393.60,201.86 C394.60,201.55 395.60,201.25 396.60,200.95 C397.60,200.64 398.60,200.34 399.60,200.05 C400.60,199.75 401.60,199.45 402.60,199.16 C403.60,198.87 404.60,198.58 405.60,198.29 C406.60,198.00 408.00,197.60 408.60,197.43 C409.20,197.26 409.10,197.28 409.20,197.26" stroke="#808080" stroke-width="1.35" stroke-dasharray="7 2.4 1.6 2.4"/>
</g>
<g clip-path="url(#cb)" fill="none" stroke-linecap="butt" stroke-linejoin="round">
<path d="M86.40,544.44 C86.90,544.46 88.40,544.55 89.40,544.59 C90.40,544.64 91.40,544.67 92.40,544.69 C93.40,544.71 94.40,544.73 95.40,544.73 C96.40,544.73 97.40,544.72 98.40,544.70 C99.40,544.68 100.40,544.65 101.40,544.61 C102.40,544.57 103.40,544.51 104.40,544.45 C105.40,544.39 106.40,544.31 107.40,544.23 C108.40,544.14 109.40,544.05 110.40,543.94 C111.40,543.83 112.40,543.72 113.40,543.58 C114.40,543.45 115.40,543.31 116.40,543.16 C117.40,543.01 118.40,542.84 119.40,542.66 C120.40,542.49 121.40,542.30 122.40,542.10 C123.40,541.90 124.40,541.69 125.40,541.46 C126.40,541.24 127.40,541.00 128.40,540.75 C129.40,540.50 130.40,540.24 131.40,539.97 C132.40,539.69 133.40,539.41 134.40,539.11 C135.40,538.81 136.40,538.50 137.40,538.17 C138.40,537.85 139.40,537.51 140.40,537.16 C141.40,536.81 142.40,536.45 143.40,536.07 C144.40,535.69 145.40,535.30 146.40,534.90 C147.40,534.50 148.40,534.08 149.40,533.65 C150.40,533.22 151.40,532.78 152.40,532.32 C153.40,531.87 154.40,531.40 155.40,530.91 C156.40,530.43 157.40,529.93 158.40,529.42 C159.40,528.91 160.40,528.38 161.40,527.84 C162.40,527.30 163.40,526.75 164.40,526.18 C165.40,525.61 166.40,525.03 167.40,524.43 C168.40,523.83 169.40,523.22 170.40,522.59 C171.40,521.97 172.40,521.33 173.40,520.67 C174.40,520.02 175.40,519.35 176.40,518.66 C177.40,517.97 178.40,517.27 179.40,516.56 C180.40,515.84 181.40,515.11 182.40,514.36 C183.40,513.62 184.40,512.86 185.40,512.08 C186.40,511.30 187.40,510.51 188.40,509.70 C189.40,508.89 190.40,508.07 191.40,507.23 C192.40,506.39 193.40,505.54 194.40,504.67 C195.40,503.79 196.40,502.91 197.40,502.00 C198.40,501.10 199.40,500.18 200.40,499.25 C201.40,498.31 202.40,497.36 203.40,496.39 C204.40,495.42 205.40,494.44 206.40,493.44 C207.40,492.44 208.40,491.42 209.40,490.39 C210.40,489.36 211.40,488.31 212.40,487.24 C213.40,486.17 214.40,485.09 215.40,483.99 C216.40,482.89 217.40,481.77 218.40,480.64 C219.40,479.51 220.40,478.36 221.40,477.19 C222.40,476.02 223.40,474.84 224.40,473.63 C225.40,472.43 226.40,471.21 227.40,469.98 C228.40,468.74 229.40,467.49 230.40,466.22 C231.40,464.95 232.40,463.66 233.40,462.37 C234.40,461.07 235.40,459.77 236.40,458.47 C237.40,457.17 238.40,455.87 239.40,454.58 C240.40,453.29 241.40,452.01 242.40,450.75 C243.40,449.49 244.40,448.24 245.40,447.03 C246.40,445.81 247.40,444.62 248.40,443.47 C249.40,442.32 250.40,441.19 251.40,440.12 C252.40,439.05 253.40,438.02 254.40,437.05 C255.40,436.07 256.40,435.15 257.40,434.29 C258.40,433.43 259.40,432.63 260.40,431.90 C261.40,431.17 262.40,430.52 263.40,429.93 C264.40,429.35 265.40,428.85 266.40,428.40 C267.40,427.95 268.40,427.57 269.40,427.22 C270.40,426.87 271.40,426.58 272.40,426.29 C273.40,426.01 274.40,425.77 275.40,425.53 C276.40,425.29 277.40,425.06 278.40,424.84 C279.40,424.62 280.40,424.40 281.40,424.19 C282.40,423.98 283.40,423.78 284.40,423.57 C285.40,423.37 286.40,423.18 287.40,422.98 C288.40,422.79 289.40,422.60 290.40,422.41 C291.40,422.22 292.40,422.04 293.40,421.85 C294.40,421.66 295.40,421.47 296.40,421.29 C297.40,421.10 298.40,420.91 299.40,420.72 C300.40,420.52 301.40,420.33 302.40,420.13 C303.40,419.94 304.40,419.73 305.40,419.53 C306.40,419.32 307.40,419.11 308.40,418.90 C309.40,418.68 310.40,418.47 311.40,418.25 C312.40,418.02 313.40,417.80 314.40,417.57 C315.40,417.34 316.40,417.11 317.40,416.87 C318.40,416.63 319.40,416.39 320.40,416.15 C321.40,415.90 322.40,415.66 323.40,415.40 C324.40,415.15 325.40,414.90 326.40,414.64 C327.40,414.38 328.40,414.12 329.40,413.85 C330.40,413.59 331.40,413.32 332.40,413.05 C333.40,412.77 334.40,412.50 335.40,412.22 C336.40,411.94 337.40,411.66 338.40,411.37 C339.40,411.09 340.40,410.80 341.40,410.51 C342.40,410.21 343.40,409.92 344.40,409.62 C345.40,409.32 346.40,409.02 347.40,408.72 C348.40,408.41 349.40,408.11 350.40,407.80 C351.40,407.49 352.40,407.17 353.40,406.86 C354.40,406.54 355.40,406.22 356.40,405.90 C357.40,405.58 358.40,405.25 359.40,404.93 C360.40,404.60 361.40,404.27 362.40,403.94 C363.40,403.60 364.40,403.27 365.40,402.93 C366.40,402.59 367.40,402.25 368.40,401.91 C369.40,401.57 370.40,401.22 371.40,400.88 C372.40,400.53 373.40,400.18 374.40,399.82 C375.40,399.47 376.40,399.12 377.40,398.76 C378.40,398.40 379.40,398.04 380.40,397.68 C381.40,397.32 382.40,396.96 383.40,396.59 C384.40,396.22 385.40,395.86 386.40,395.48 C387.40,395.11 388.40,394.74 389.40,394.37 C390.40,393.99 391.40,393.62 392.40,393.24 C393.40,392.86 394.40,392.48 395.40,392.10 C396.40,391.72 397.40,391.33 398.40,390.95 C399.40,390.56 400.40,390.17 401.40,389.78 C402.40,389.39 403.40,389.00 404.40,388.61 C405.40,388.22 406.40,387.82 407.40,387.43 C408.40,387.03 409.40,386.63 410.40,386.24 C411.40,385.84 412.90,385.23 413.40,385.03" stroke="#000000" stroke-width="1.70"/>
<path d="M86.40,544.32 C86.90,544.34 88.40,544.39 89.40,544.42 C90.40,544.44 91.40,544.45 92.40,544.46 C93.40,544.46 94.40,544.46 95.40,544.44 C96.40,544.43 97.40,544.41 98.40,544.38 C99.40,544.34 100.40,544.30 101.40,544.25 C102.40,544.20 103.40,544.14 104.40,544.07 C105.40,543.99 106.40,543.91 107.40,543.82 C108.40,543.73 109.40,543.63 110.40,543.52 C111.40,543.41 112.40,543.29 113.40,543.16 C114.40,543.03 115.40,542.88 116.40,542.73 C117.40,542.58 118.40,542.42 119.40,542.24 C120.40,542.07 121.40,541.89 122.40,541.69 C123.40,541.50 124.40,541.29 125.40,541.07 C126.40,540.86 127.40,540.63 128.40,540.39 C129.40,540.15 130.40,539.90 131.40,539.64 C132.40,539.38 133.40,539.11 134.40,538.82 C135.40,538.54 136.40,538.24 137.40,537.94 C138.40,537.63 139.40,537.31 140.40,536.98 C141.40,536.65 142.40,536.31 143.40,535.95 C144.40,535.60 145.40,535.23 146.40,534.85 C147.40,534.47 148.40,534.08 149.40,533.68 C150.40,533.27 151.40,532.86 152.40,532.43 C153.40,532.00 154.40,531.56 155.40,531.11 C156.40,530.65 157.40,530.19 158.40,529.71 C159.40,529.23 160.40,528.73 161.40,528.23 C162.40,527.72 163.40,527.21 164.40,526.67 C165.40,526.14 166.40,525.60 167.40,525.04 C168.40,524.48 169.40,523.91 170.40,523.32 C171.40,522.74 172.40,522.14 173.40,521.53 C174.40,520.92 175.40,520.29 176.40,519.65 C177.40,519.01 178.90,518.01 179.40,517.69" stroke="#ff0000" stroke-width="1.70"/>
<path d="M179.40,517.69 C179.90,517.35 181.40,516.34 182.40,515.64 C183.40,514.94 184.40,514.23 185.40,513.51 C186.40,512.78 187.40,512.04 188.40,511.29 C189.40,510.54 190.40,509.77 191.40,508.98 C192.40,508.20 193.40,507.40 194.40,506.59 C195.40,505.77 196.40,504.95 197.40,504.10 C198.40,503.26 199.40,502.40 200.40,501.53 C201.40,500.65 202.40,499.77 203.40,498.86 C204.40,497.96 205.40,497.04 206.40,496.10 C207.40,495.16 208.40,494.21 209.40,493.24 C210.40,492.27 211.40,491.29 212.40,490.28 C213.40,489.28 214.40,488.25 215.40,487.21 C216.40,486.17 217.40,485.11 218.40,484.04 C219.40,482.96 220.40,481.86 221.40,480.74 C222.40,479.62 223.40,478.49 224.40,477.33 C225.40,476.17 226.40,474.99 227.40,473.79 C228.40,472.59 229.40,471.37 230.40,470.13 C231.40,468.89 232.40,467.62 233.40,466.34 C234.40,465.07 235.40,463.78 236.40,462.49 C237.40,461.20 238.40,459.90 239.40,458.62 C240.40,457.34 241.40,456.05 242.40,454.79 C243.40,453.53 244.40,452.27 245.40,451.05 C246.40,449.83 247.40,448.62 248.40,447.46 C249.40,446.29 250.40,445.15 251.40,444.06 C252.40,442.97 253.40,441.92 254.40,440.93 C255.40,439.93 256.40,438.99 257.40,438.10 C258.40,437.21 259.40,436.38 260.40,435.60 C261.40,434.82 262.40,434.09 263.40,433.41 C264.40,432.72 265.40,432.09 266.40,431.49 C267.40,430.89 268.40,430.34 269.40,429.82 C270.40,429.30 271.40,428.82 272.40,428.37 C273.40,427.92 274.40,427.50 275.40,427.11 C276.40,426.72 277.40,426.36 278.40,426.02 C279.40,425.67 280.40,425.36 281.40,425.05 C282.40,424.75 283.40,424.47 284.40,424.20 C285.40,423.93 286.40,423.67 287.40,423.42 C288.40,423.17 289.40,422.93 290.40,422.69 C291.40,422.45 292.40,422.22 293.40,421.99 C294.40,421.76 295.40,421.53 296.40,421.31 C297.40,421.08 298.40,420.86 299.40,420.64 C300.40,420.42 301.40,420.20 302.40,419.98 C303.40,419.76 304.40,419.55 305.40,419.33 C306.40,419.11 307.40,418.90 308.40,418.68 C309.40,418.46 310.40,418.24 311.40,418.03 C312.40,417.81 313.40,417.59 314.40,417.37 C315.40,417.14 316.40,416.92 317.40,416.69 C318.40,416.47 319.40,416.24 320.40,416.01 C321.40,415.77 322.40,415.54 323.40,415.30 C324.40,415.06 325.40,414.81 326.40,414.56 C327.40,414.31 328.40,414.06 329.40,413.80 C330.40,413.54 331.40,413.28 332.40,413.00 C333.40,412.73 334.40,412.45 335.40,412.17 C336.40,411.88 337.63,411.52 338.40,411.29 C339.17,411.06 339.73,410.88 340.00,410.80" stroke="#ff0000" stroke-width="1.70" stroke-dasharray="4.8 2.1"/>
<path d="M86.40,542.89 C86.90,542.91 88.40,542.95 89.40,542.97 C90.40,542.99 91.40,543.00 92.40,543.00 C93.40,542.99 94.40,542.99 95.40,542.97 C96.40,542.95 97.40,542.92 98.40,542.89 C99.40,542.85 100.40,542.81 101.40,542.75 C102.40,542.70 103.40,542.64 104.40,542.57 C105.40,542.49 106.40,542.41 107.40,542.32 C108.40,542.23 109.40,542.13 110.40,542.02 C111.40,541.92 112.40,541.80 113.40,541.67 C114.40,541.54 115.40,541.41 116.40,541.26 C117.40,541.11 118.40,540.96 119.40,540.79 C120.40,540.63 121.40,540.45 122.40,540.26 C123.40,540.08 124.40,539.88 125.40,539.68 C126.40,539.47 127.40,539.26 128.40,539.03 C129.40,538.81 130.40,538.57 131.40,538.33 C132.40,538.08 133.40,537.83 134.40,537.56 C135.40,537.30 136.40,537.02 137.40,536.73 C138.40,536.45 139.40,536.15 140.40,535.84 C141.40,535.54 142.40,535.22 143.40,534.89 C144.40,534.56 145.40,534.22 146.40,533.87 C147.40,533.52 148.40,533.16 149.40,532.79 C150.40,532.42 151.40,532.04 152.40,531.65 C153.40,531.25 154.40,530.85 155.40,530.44 C156.40,530.02 157.40,529.60 158.40,529.16 C159.40,528.72 160.40,528.27 161.40,527.81 C162.40,527.35 163.40,526.88 164.40,526.40 C165.40,525.92 166.40,525.43 167.40,524.92 C168.40,524.42 169.40,523.90 170.40,523.37 C171.40,522.84 172.40,522.30 173.40,521.75 C174.40,521.20 175.40,520.64 176.40,520.06 C177.40,519.49 178.40,518.90 179.40,518.30 C180.40,517.70 181.40,517.09 182.40,516.47 C183.40,515.84 184.40,515.21 185.40,514.56 C186.40,513.91 187.40,513.26 188.40,512.58 C189.40,511.91 190.40,511.23 191.40,510.53 C192.40,509.84 193.40,509.13 194.40,508.40 C195.40,507.68 196.40,506.95 197.40,506.20 C198.40,505.46 199.40,504.70 200.40,503.93 C201.40,503.15 202.40,502.37 203.40,501.57 C204.40,500.77 205.40,499.96 206.40,499.14 C207.40,498.32 208.40,497.48 209.40,496.63 C210.40,495.78 211.40,494.92 212.40,494.04 C213.40,493.16 214.40,492.27 215.40,491.37 C216.40,490.46 217.40,489.55 218.40,488.61 C219.40,487.68 220.40,486.74 221.40,485.78 C222.40,484.82 223.40,483.84 224.40,482.85 C225.40,481.86 226.40,480.86 227.40,479.84 C228.40,478.82 229.40,477.79 230.40,476.74 C231.40,475.69 232.40,474.63 233.40,473.56 C234.40,472.49 235.40,471.40 236.40,470.32 C237.40,469.23 238.40,468.14 239.40,467.05 C240.40,465.96 241.40,464.86 242.40,463.78 C243.40,462.69 244.40,461.60 245.40,460.53 C246.40,459.46 247.40,458.39 248.40,457.34 C249.40,456.29 250.40,455.25 251.40,454.23 C252.40,453.21 253.40,452.20 254.40,451.22 C255.40,450.25 256.40,449.29 257.40,448.36 C258.40,447.43 259.40,446.52 260.40,445.64 C261.40,444.76 262.40,443.91 263.40,443.08 C264.40,442.25 265.40,441.44 266.40,440.66 C267.40,439.87 268.40,439.11 269.40,438.37 C270.40,437.64 271.40,436.92 272.40,436.23 C273.40,435.53 274.40,434.86 275.40,434.21 C276.40,433.56 277.40,432.93 278.40,432.32 C279.40,431.71 280.40,431.12 281.40,430.56 C282.40,429.99 283.40,429.44 284.40,428.91 C285.40,428.37 286.40,427.86 287.40,427.37 C288.40,426.87 289.40,426.40 290.40,425.94 C291.40,425.48 292.40,425.04 293.40,424.61 C294.40,424.19 295.40,423.78 296.40,423.38 C297.40,422.99 298.40,422.61 299.40,422.24 C300.40,421.87 301.40,421.51 302.40,421.16 C303.40,420.82 304.40,420.48 305.40,420.16 C306.40,419.83 307.40,419.51 308.40,419.20 C309.40,418.89 310.40,418.59 311.40,418.30 C312.40,418.00 313.40,417.71 314.40,417.43 C315.40,417.14 316.40,416.87 317.40,416.59 C318.40,416.31 319.40,416.04 320.40,415.76 C321.40,415.49 322.40,415.22 323.40,414.95 C324.40,414.67 325.40,414.40 326.40,414.13 C327.40,413.85 328.40,413.58 329.40,413.30 C330.40,413.02 331.40,412.73 332.40,412.44 C333.40,412.16 334.40,411.86 335.40,411.56 C336.40,411.26 337.40,410.96 338.40,410.64 C339.40,410.32 340.72,409.89 341.40,409.67 C342.08,409.44 342.32,409.36 342.50,409.30" stroke="#0000ff" stroke-width="1.80"/>
<path d="M86.40,540.57 C86.90,540.55 88.40,540.46 89.40,540.41 C90.40,540.36 91.40,540.32 92.40,540.28 C93.40,540.24 94.40,540.20 95.40,540.17 C96.40,540.14 97.40,540.11 98.40,540.07 C99.40,540.04 100.40,540.02 101.40,539.99 C102.40,539.96 103.40,539.93 104.40,539.90 C105.40,539.87 106.40,539.83 107.40,539.80 C108.40,539.76 109.40,539.72 110.40,539.68 C111.40,539.63 112.40,539.58 113.40,539.53 C114.40,539.47 115.40,539.41 116.40,539.34 C117.40,539.28 118.40,539.20 119.40,539.12 C120.40,539.03 121.40,538.94 122.40,538.83 C123.40,538.73 124.40,538.61 125.40,538.49 C126.40,538.36 127.40,538.22 128.40,538.07 C129.40,537.92 130.40,537.76 131.40,537.58 C132.40,537.40 133.40,537.21 134.40,536.99 C135.40,536.78 136.40,536.56 137.40,536.32 C138.40,536.07 139.40,535.81 140.40,535.53 C141.40,535.25 142.40,534.96 143.40,534.64 C144.40,534.32 145.40,533.98 146.40,533.62 C147.40,533.26 148.40,532.87 149.40,532.47 C150.40,532.06 151.40,531.63 152.40,531.18 C153.40,530.74 154.40,530.26 155.40,529.78 C156.40,529.30 157.40,528.80 158.40,528.30 C159.40,527.79 160.40,527.27 161.40,526.76 C162.40,526.24 163.40,525.71 164.40,525.19 C165.40,524.67 166.40,524.15 167.40,523.64 C168.40,523.12 169.40,522.61 170.40,522.12 C171.40,521.62 172.40,521.14 173.40,520.66 C174.40,520.19 175.40,519.73 176.40,519.27 C177.40,518.80 178.40,518.35 179.40,517.90 C180.40,517.44 181.40,516.99 182.40,516.54 C183.40,516.08 184.40,515.63 185.40,515.16 C186.40,514.69 187.40,514.22 188.40,513.74 C189.40,513.26 190.40,512.76 191.40,512.25 C192.40,511.74 193.40,511.22 194.40,510.68 C195.40,510.13 196.90,509.27 197.40,508.99" stroke="#00ffff" stroke-width="1.70"/>
<path d="M197.40,508.99 C197.90,508.68 199.40,507.79 200.40,507.15 C201.40,506.52 202.40,505.85 203.40,505.16 C204.40,504.47 205.40,503.74 206.40,502.99 C207.40,502.24 208.40,501.46 209.40,500.65 C210.40,499.85 211.40,499.02 212.40,498.17 C213.40,497.32 214.40,496.45 215.40,495.56 C216.40,494.67 217.40,493.76 218.40,492.83 C219.40,491.91 220.40,490.96 221.40,490.01 C222.40,489.05 223.40,488.08 224.40,487.10 C225.40,486.12 226.40,485.13 227.40,484.13 C228.40,483.14 229.40,482.13 230.40,481.12 C231.40,480.11 232.40,479.09 233.40,478.07 C234.40,477.05 235.40,476.02 236.40,475.00 C237.40,473.98 238.40,472.96 239.40,471.94 C240.40,470.92 241.40,469.90 242.40,468.89 C243.40,467.88 244.40,466.88 245.40,465.88 C246.40,464.88 247.40,463.89 248.40,462.92 C249.40,461.94 250.40,460.98 251.40,460.02 C252.40,459.07 253.40,458.13 254.40,457.21 C255.40,456.29 256.40,455.39 257.40,454.50 C258.40,453.62 259.40,452.75 260.40,451.90 C261.40,451.05 262.40,450.22 263.40,449.40 C264.40,448.59 265.40,447.79 266.40,447.01 C267.40,446.23 268.40,445.46 269.40,444.71 C270.40,443.96 271.40,443.23 272.40,442.51 C273.40,441.79 274.40,441.09 275.40,440.40 C276.40,439.71 277.40,439.04 278.40,438.38 C279.40,437.72 280.40,437.08 281.40,436.44 C282.40,435.81 283.40,435.19 284.40,434.59 C285.40,433.98 286.40,433.39 287.40,432.81 C288.40,432.23 289.40,431.66 290.40,431.10 C291.40,430.55 292.40,430.00 293.40,429.47 C294.40,428.93 295.40,428.41 296.40,427.90 C297.40,427.39 298.40,426.88 299.40,426.39 C300.40,425.90 301.40,425.42 302.40,424.95 C303.40,424.47 304.40,424.01 305.40,423.56 C306.40,423.10 307.40,422.66 308.40,422.22 C309.40,421.78 310.40,421.35 311.40,420.93 C312.40,420.51 313.40,420.09 314.40,419.69 C315.40,419.28 316.40,418.88 317.40,418.48 C318.40,418.09 319.40,417.70 320.40,417.32 C321.40,416.94 322.40,416.56 323.40,416.19 C324.40,415.82 325.40,415.45 326.40,415.09 C327.40,414.73 328.40,414.38 329.40,414.02 C330.40,413.67 331.40,413.32 332.40,412.98 C333.40,412.63 334.47,412.27 335.40,411.95 C336.33,411.64 337.57,411.22 338.00,411.08" stroke="#00ffff" stroke-width="1.70" stroke-dasharray="4.8 2.1"/>
<path d="M86.40,538.87 C86.90,538.90 88.40,539.00 89.40,539.05 C90.40,539.10 91.40,539.14 92.40,539.17 C93.40,539.20 94.40,539.21 95.40,539.22 C96.40,539.23 97.40,539.23 98.40,539.22 C99.40,539.21 100.40,539.19 101.40,539.16 C102.40,539.13 103.40,539.09 104.40,539.05 C105.40,539.00 106.40,538.94 107.40,538.87 C108.40,538.80 109.40,538.72 110.40,538.64 C111.40,538.55 112.40,538.45 113.40,538.35 C114.40,538.24 115.40,538.13 116.40,538.00 C117.40,537.88 118.40,537.75 119.40,537.60 C120.40,537.46 121.40,537.31 122.40,537.15 C123.40,536.99 124.40,536.82 125.40,536.64 C126.40,536.46 127.40,536.28 128.40,536.08 C129.40,535.88 130.40,535.68 131.40,535.47 C132.40,535.25 133.40,535.03 134.40,534.80 C135.40,534.57 136.40,534.33 137.40,534.08 C138.40,533.83 139.40,533.58 140.40,533.31 C141.40,533.05 142.40,532.77 143.40,532.49 C144.40,532.21 145.40,531.92 146.40,531.62 C147.40,531.33 148.40,531.02 149.40,530.71 C150.40,530.39 151.40,530.07 152.40,529.74 C153.40,529.41 154.40,529.07 155.40,528.72 C156.40,528.38 157.40,528.02 158.40,527.66 C159.40,527.30 160.40,526.93 161.40,526.55 C162.40,526.18 163.40,525.79 164.40,525.40 C165.40,525.01 166.40,524.61 167.40,524.20 C168.40,523.79 169.40,523.38 170.40,522.95 C171.40,522.53 172.40,522.10 173.40,521.66 C174.40,521.23 175.40,520.78 176.40,520.33 C177.40,519.87 178.40,519.41 179.40,518.94 C180.40,518.47 181.40,517.99 182.40,517.50 C183.40,517.01 184.40,516.51 185.40,516.00 C186.40,515.49 187.40,514.97 188.40,514.44 C189.40,513.91 190.40,513.37 191.40,512.82 C192.40,512.26 193.40,511.70 194.40,511.13 C195.40,510.55 196.40,509.96 197.40,509.36 C198.40,508.76 199.40,508.15 200.40,507.53 C201.40,506.90 202.40,506.26 203.40,505.61 C204.40,504.96 205.40,504.30 206.40,503.62 C207.40,502.94 208.40,502.24 209.40,501.54 C210.40,500.83 211.40,500.11 212.40,499.37 C213.40,498.63 214.40,497.88 215.40,497.11 C216.40,496.34 217.40,495.55 218.40,494.75 C219.40,493.95 220.40,493.14 221.40,492.31 C222.40,491.48 223.40,490.64 224.40,489.79 C225.40,488.94 226.40,488.07 227.40,487.20 C228.40,486.33 229.40,485.45 230.40,484.56 C231.40,483.67 232.40,482.77 233.40,481.87 C234.40,480.97 235.40,480.06 236.40,479.14 C237.40,478.23 238.40,477.31 239.40,476.39 C240.40,475.47 241.40,474.55 242.40,473.62 C243.40,472.70 244.40,471.77 245.40,470.85 C246.40,469.93 247.40,469.00 248.40,468.08 C249.40,467.16 250.40,466.24 251.40,465.33 C252.40,464.42 253.40,463.51 254.40,462.60 C255.40,461.70 256.40,460.80 257.40,459.91 C258.40,459.02 259.40,458.14 260.40,457.27 C261.40,456.40 262.40,455.53 263.40,454.68 C264.40,453.83 265.40,452.99 266.40,452.16 C267.40,451.33 268.40,450.52 269.40,449.72 C270.40,448.92 271.40,448.13 272.40,447.36 C273.40,446.59 274.40,445.83 275.40,445.09 C276.40,444.34 277.40,443.61 278.40,442.90 C279.40,442.18 280.40,441.48 281.40,440.78 C282.40,440.09 283.40,439.42 284.40,438.75 C285.40,438.08 286.40,437.43 287.40,436.79 C288.40,436.14 289.40,435.51 290.40,434.89 C291.40,434.27 292.40,433.67 293.40,433.07 C294.40,432.47 295.40,431.89 296.40,431.31 C297.40,430.73 298.40,430.17 299.40,429.61 C300.40,429.06 301.40,428.51 302.40,427.97 C303.40,427.44 304.40,426.91 305.40,426.39 C306.40,425.87 307.40,425.37 308.40,424.86 C309.40,424.36 310.40,423.87 311.40,423.39 C312.40,422.90 313.40,422.43 314.40,421.96 C315.40,421.49 316.40,421.03 317.40,420.57 C318.40,420.12 319.40,419.67 320.40,419.23 C321.40,418.79 322.40,418.35 323.40,417.93 C324.40,417.50 325.40,417.08 326.40,416.66 C327.40,416.24 328.40,415.83 329.40,415.43 C330.40,415.02 331.40,414.62 332.40,414.22 C333.40,413.83 334.40,413.44 335.40,413.05 C336.40,412.66 337.40,412.28 338.40,411.90 C339.40,411.52 340.40,411.15 341.40,410.77 C342.40,410.40 343.40,410.03 344.40,409.67 C345.40,409.30 346.40,408.94 347.40,408.57 C348.40,408.21 349.40,407.85 350.40,407.50 C351.40,407.14 352.40,406.79 353.40,406.43 C354.40,406.08 355.40,405.73 356.40,405.37 C357.40,405.02 358.40,404.67 359.40,404.32 C360.40,403.97 361.40,403.62 362.40,403.27 C363.40,402.92 364.40,402.57 365.40,402.22 C366.40,401.87 367.40,401.52 368.40,401.17 C369.40,400.81 370.40,400.46 371.40,400.11 C372.40,399.75 373.40,399.40 374.40,399.04 C375.40,398.68 376.40,398.32 377.40,397.96 C378.40,397.60 379.40,397.23 380.40,396.86 C381.40,396.50 382.40,396.12 383.40,395.75 C384.40,395.38 385.40,395.00 386.40,394.62 C387.40,394.24 388.40,393.85 389.40,393.46 C390.40,393.07 391.40,392.68 392.40,392.28 C393.40,391.88 394.40,391.48 395.40,391.07 C396.40,390.66 397.40,390.25 398.40,389.83 C399.40,389.41 400.40,388.98 401.40,388.55 C402.40,388.12 403.40,387.68 404.40,387.24 C405.40,386.79 406.40,386.34 407.40,385.89 C408.40,385.43 409.40,384.96 410.40,384.49 C411.40,384.02 412.90,383.29 413.40,383.05" stroke="#008000" stroke-width="1.80"/>
<path d="M86.40,535.02 C86.90,535.05 88.40,535.14 89.40,535.20 C90.40,535.25 91.40,535.29 92.40,535.33 C93.40,535.37 94.40,535.40 95.40,535.42 C96.40,535.45 97.40,535.47 98.40,535.48 C99.40,535.49 100.40,535.49 101.40,535.49 C102.40,535.49 103.40,535.48 104.40,535.46 C105.40,535.44 106.40,535.42 107.40,535.39 C108.40,535.36 109.40,535.32 110.40,535.28 C111.40,535.23 112.40,535.18 113.40,535.12 C114.40,535.06 115.40,534.99 116.40,534.91 C117.40,534.84 118.40,534.76 119.40,534.67 C120.40,534.58 121.40,534.48 122.40,534.37 C123.40,534.27 124.40,534.15 125.40,534.03 C126.40,533.91 127.40,533.78 128.40,533.64 C129.40,533.51 130.40,533.36 131.40,533.21 C132.40,533.05 133.40,532.89 134.40,532.72 C135.40,532.55 136.40,532.37 137.40,532.18 C138.40,532.00 139.40,531.80 140.40,531.60 C141.40,531.39 142.40,531.18 143.40,530.96 C144.40,530.74 145.40,530.51 146.40,530.27 C147.40,530.03 148.40,529.78 149.40,529.53 C150.40,529.27 151.40,529.00 152.40,528.73 C153.40,528.45 154.40,528.17 155.40,527.88 C156.40,527.58 157.40,527.28 158.40,526.97 C159.40,526.66 160.40,526.34 161.40,526.01 C162.40,525.68 163.40,525.34 164.40,524.99 C165.40,524.64 166.40,524.28 167.40,523.91 C168.40,523.54 169.40,523.17 170.40,522.78 C171.40,522.39 172.40,521.99 173.40,521.59 C174.40,521.18 175.40,520.76 176.40,520.33 C177.40,519.90 178.40,519.47 179.40,519.02 C180.40,518.57 181.40,518.11 182.40,517.64 C183.40,517.18 184.40,516.70 185.40,516.21 C186.40,515.72 187.40,515.22 188.40,514.71 C189.40,514.20 190.40,513.68 191.40,513.15 C192.40,512.61 193.40,512.07 194.40,511.52 C195.40,510.97 196.40,510.40 197.40,509.83 C198.40,509.25 199.40,508.67 200.40,508.07 C201.40,507.47 202.40,506.86 203.40,506.25 C204.40,505.63 205.40,505.00 206.40,504.35 C207.40,503.71 208.40,503.06 209.40,502.40 C210.40,501.73 211.40,501.06 212.40,500.37 C213.40,499.68 214.40,498.98 215.40,498.27 C216.40,497.56 217.40,496.84 218.40,496.10 C219.40,495.37 220.40,494.63 221.40,493.87 C222.40,493.12 223.40,492.36 224.40,491.58 C225.40,490.81 226.40,490.03 227.40,489.24 C228.40,488.46 229.40,487.66 230.40,486.86 C231.40,486.06 232.40,485.25 233.40,484.44 C234.40,483.63 235.40,482.81 236.40,481.99 C237.40,481.17 238.40,480.34 239.40,479.51 C240.40,478.69 241.40,477.86 242.40,477.02 C243.40,476.19 244.40,475.36 245.40,474.53 C246.40,473.69 247.40,472.86 248.40,472.03 C249.40,471.19 250.40,470.36 251.40,469.53 C252.40,468.70 253.40,467.87 254.40,467.04 C255.40,466.22 256.40,465.40 257.40,464.58 C258.40,463.76 259.40,462.95 260.40,462.14 C261.40,461.33 262.40,460.53 263.40,459.73 C264.40,458.94 265.40,458.15 266.40,457.36 C267.40,456.58 268.40,455.81 269.40,455.04 C270.40,454.28 271.40,453.52 272.40,452.78 C273.40,452.03 274.40,451.29 275.40,450.56 C276.40,449.83 277.40,449.11 278.40,448.39 C279.40,447.68 280.40,446.97 281.40,446.28 C282.40,445.58 283.40,444.89 284.40,444.21 C285.40,443.53 286.40,442.85 287.40,442.19 C288.40,441.52 289.40,440.86 290.40,440.21 C291.40,439.56 292.40,438.92 293.40,438.28 C294.40,437.64 295.40,437.02 296.40,436.39 C297.40,435.77 298.40,435.15 299.40,434.55 C300.40,433.94 301.40,433.33 302.40,432.74 C303.40,432.14 304.40,431.55 305.40,430.97 C306.40,430.39 307.40,429.81 308.40,429.24 C309.40,428.67 310.40,428.10 311.40,427.54 C312.40,426.98 313.40,426.43 314.40,425.88 C315.40,425.33 316.40,424.79 317.40,424.25 C318.40,423.72 319.40,423.19 320.40,422.66 C321.40,422.13 322.40,421.61 323.40,421.09 C324.40,420.58 325.40,420.07 326.40,419.56 C327.40,419.05 328.40,418.55 329.40,418.05 C330.40,417.55 331.40,417.06 332.40,416.57 C333.40,416.08 334.40,415.59 335.40,415.11 C336.40,414.63 337.40,414.15 338.40,413.68 C339.40,413.21 340.40,412.74 341.40,412.27 C342.40,411.80 343.40,411.34 344.40,410.88 C345.40,410.42 346.40,409.96 347.40,409.51 C348.40,409.06 349.40,408.61 350.40,408.16 C351.40,407.71 352.40,407.27 353.40,406.82 C354.40,406.38 355.40,405.94 356.40,405.51 C357.40,405.07 358.40,404.63 359.40,404.20 C360.40,403.77 361.40,403.34 362.40,402.91 C363.40,402.48 364.40,402.05 365.40,401.63 C366.40,401.21 367.40,400.78 368.40,400.36 C369.40,399.94 370.40,399.52 371.40,399.10 C372.40,398.68 373.40,398.26 374.40,397.85 C375.40,397.43 376.40,397.01 377.40,396.60 C378.40,396.18 379.40,395.77 380.40,395.36 C381.40,394.94 382.40,394.53 383.40,394.12 C384.40,393.70 385.40,393.29 386.40,392.88 C387.40,392.47 388.40,392.06 389.40,391.64 C390.40,391.23 391.40,390.82 392.40,390.41 C393.40,389.99 394.40,389.58 395.40,389.17 C396.40,388.76 397.40,388.34 398.40,387.93 C399.40,387.51 400.40,387.10 401.40,386.68 C402.40,386.26 403.40,385.85 404.40,385.43 C405.40,385.01 406.40,384.59 407.40,384.17 C408.40,383.74 409.40,383.32 410.40,382.90 C411.40,382.47 412.90,381.83 413.40,381.62" stroke="#ff8000" stroke-width="1.60" stroke-dasharray="5.3 2.0"/>
<path d="M86.40,533.48 C86.90,533.45 88.40,533.35 89.40,533.29 C90.40,533.22 91.40,533.16 92.40,533.10 C93.40,533.03 94.40,532.97 95.40,532.91 C96.40,532.85 97.40,532.79 98.40,532.73 C99.40,532.67 100.40,532.61 101.40,532.55 C102.40,532.48 103.40,532.42 104.40,532.36 C105.40,532.30 106.40,532.23 107.40,532.17 C108.40,532.10 109.40,532.04 110.40,531.97 C111.40,531.90 112.40,531.83 113.40,531.76 C114.40,531.68 115.40,531.61 116.40,531.53 C117.40,531.45 118.40,531.37 119.40,531.29 C120.40,531.21 121.40,531.12 122.40,531.03 C123.40,530.94 124.40,530.85 125.40,530.75 C126.40,530.65 127.40,530.55 128.40,530.45 C129.40,530.34 130.40,530.23 131.40,530.12 C132.40,530.00 133.40,529.88 134.40,529.76 C135.40,529.63 136.40,529.50 137.40,529.36 C138.40,529.23 139.40,529.09 140.40,528.94 C141.40,528.79 142.40,528.64 143.40,528.48 C144.40,528.31 145.40,528.15 146.40,527.97 C147.40,527.80 148.40,527.62 149.40,527.43 C150.40,527.24 151.40,527.05 152.40,526.84 C153.40,526.64 154.40,526.43 155.40,526.21 C156.40,525.99 157.40,525.76 158.40,525.52 C159.40,525.28 160.40,525.04 161.40,524.78 C162.40,524.53 163.40,524.26 164.40,523.99 C165.40,523.72 166.40,523.43 167.40,523.14 C168.40,522.85 169.40,522.54 170.40,522.23 C171.40,521.91 172.40,521.59 173.40,521.26 C174.40,520.92 175.40,520.57 176.40,520.22 C177.40,519.86 178.40,519.49 179.40,519.11 C180.40,518.73 181.40,518.34 182.40,517.93 C183.40,517.53 184.40,517.11 185.40,516.68 C186.40,516.26 187.40,515.81 188.40,515.36 C189.40,514.90 190.40,514.44 191.40,513.96 C192.40,513.47 193.40,512.98 194.40,512.47 C195.40,511.96 196.40,511.44 197.40,510.90 C198.40,510.37 199.40,509.82 200.40,509.25 C201.40,508.68 202.40,508.10 203.40,507.51 C204.40,506.91 205.40,506.30 206.40,505.68 C207.40,505.05 208.40,504.41 209.40,503.76 C210.40,503.11 211.40,502.44 212.40,501.77 C213.40,501.09 214.40,500.40 215.40,499.70 C216.40,499.00 217.40,498.29 218.40,497.57 C219.40,496.85 220.40,496.12 221.40,495.38 C222.40,494.64 223.40,493.89 224.40,493.13 C225.40,492.37 226.40,491.61 227.40,490.83 C228.40,490.06 229.40,489.28 230.40,488.49 C231.40,487.71 232.40,486.91 233.40,486.12 C234.40,485.32 235.40,484.51 236.40,483.71 C237.40,482.90 238.40,482.08 239.40,481.27 C240.40,480.45 241.40,479.63 242.40,478.81 C243.40,477.99 244.40,477.17 245.40,476.34 C246.40,475.51 247.40,474.69 248.40,473.86 C249.40,473.03 250.40,472.20 251.40,471.38 C252.40,470.55 253.40,469.72 254.40,468.89 C255.40,468.07 256.40,467.24 257.40,466.42 C258.40,465.60 259.40,464.78 260.40,463.96 C261.40,463.15 262.40,462.33 263.40,461.52 C264.40,460.72 265.40,459.91 266.40,459.12 C267.40,458.32 268.40,457.53 269.40,456.75 C270.40,455.96 271.40,455.19 272.40,454.42 C273.40,453.65 274.40,452.89 275.40,452.14 C276.40,451.39 277.40,450.65 278.40,449.93 C279.40,449.20 280.40,448.48 281.40,447.78 C282.40,447.07 283.40,446.38 284.40,445.70 C285.40,445.02 286.40,444.35 287.40,443.70 C288.40,443.05 289.40,442.41 290.40,441.79 C291.40,441.17 292.40,440.57 293.40,439.98 C294.40,439.38 295.40,438.81 296.40,438.24 C297.40,437.68 298.40,437.13 299.40,436.58 C300.40,436.04 301.40,435.51 302.40,434.99 C303.40,434.47 304.40,433.96 305.40,433.45 C306.40,432.95 307.40,432.45 308.40,431.96 C309.40,431.47 310.40,430.99 311.40,430.51 C312.40,430.03 313.40,429.56 314.40,429.08 C315.40,428.61 316.40,428.14 317.40,427.68 C318.40,427.21 319.40,426.75 320.40,426.28 C321.40,425.81 322.40,425.35 323.40,424.88 C324.40,424.42 325.40,423.95 326.40,423.48 C327.40,423.00 328.40,422.53 329.40,422.05 C330.40,421.57 331.40,421.09 332.40,420.60 C333.40,420.11 334.40,419.61 335.40,419.11 C336.40,418.60 337.40,418.09 338.40,417.57 C339.40,417.05 340.63,416.39 341.40,415.98 C342.17,415.57 342.73,415.25 343.00,415.10" stroke="#8000ff" stroke-width="1.80"/>
</g>
<rect x="51.40" y="168.40" width="364.85" height="181.80" fill="none" stroke="#000" stroke-width="1.15"/>
<path d="M97.01,350.20 v-3.00 M97.01,168.40 v3.00 M142.61,350.20 v-5.40 M142.61,168.40 v5.40 M188.22,350.20 v-3.00 M188.22,168.40 v3.00 M233.83,350.20 v-5.40 M233.83,168.40 v5.40 M279.43,350.20 v-3.00 M279.43,168.40 v3.00 M325.04,350.20 v-5.40 M325.04,168.40 v5.40 M370.64,350.20 v-3.00 M370.64,168.40 v3.00 M51.40,337.52 h5.40 M416.25,337.52 h-5.40 M51.40,316.38 h3.00 M416.25,316.38 h-3.00 M51.40,295.24 h5.40 M416.25,295.24 h-5.40 M51.40,274.10 h3.00 M416.25,274.10 h-3.00 M51.40,252.96 h5.40 M416.25,252.96 h-5.40 M51.40,231.82 h3.00 M416.25,231.82 h-3.00 M51.40,210.68 h5.40 M416.25,210.68 h-5.40 M51.40,189.54 h3.00 M416.25,189.54 h-3.00" stroke="#000" stroke-width="1.00" fill="none"/>
<rect x="51.40" y="376.30" width="364.85" height="183.90" fill="none" stroke="#000" stroke-width="1.15"/>
<path d="M87.88,560.20 v-3.00 M87.88,376.30 v3.00 M124.37,560.20 v-5.40 M124.37,376.30 v5.40 M160.85,560.20 v-3.00 M160.85,376.30 v3.00 M197.34,560.20 v-5.40 M197.34,376.30 v5.40 M233.83,560.20 v-3.00 M233.83,376.30 v3.00 M270.31,560.20 v-5.40 M270.31,376.30 v5.40 M306.80,560.20 v-3.00 M306.80,376.30 v3.00 M343.28,560.20 v-5.40 M343.28,376.30 v5.40 M379.76,560.20 v-3.00 M379.76,376.30 v3.00 M51.40,537.21 h5.40 M416.25,537.21 h-5.40 M51.40,514.23 h3.00 M416.25,514.23 h-3.00 M51.40,491.24 h5.40 M416.25,491.24 h-5.40 M51.40,468.25 h3.00 M416.25,468.25 h-3.00 M51.40,445.26 h5.40 M416.25,445.26 h-5.40 M51.40,422.28 h3.00 M416.25,422.28 h-3.00 M51.40,399.29 h5.40 M416.25,399.29 h-5.40" stroke="#000" stroke-width="1.00" fill="none"/>
<rect x="80.90" y="181.00" width="130.00" height="74.70" fill="#fff"/>
<g clip-path="url(#ci2)" fill="none" stroke-linejoin="round">
<path d="M80.90,239.27 L89.57,234.19 L106.90,228.88 L115.57,224.33 L124.23,221.49 L141.57,210.66 L167.57,201.47 L184.90,193.47 L210.90,186.23" stroke="#8000ff" stroke-width="1.2"/>
<circle cx="89.57" cy="234.19" r="2.00" fill="#8000ff"/>
<circle cx="106.90" cy="228.88" r="2.00" fill="#8000ff"/>
<circle cx="115.57" cy="224.33" r="2.00" fill="#8000ff"/>
<circle cx="124.23" cy="221.49" r="2.00" fill="#8000ff"/>
<circle cx="141.57" cy="210.66" r="2.00" fill="#8000ff"/>
<circle cx="167.57" cy="201.47" r="2.00" fill="#8000ff"/>
<circle cx="184.90" cy="193.47" r="2.00" fill="#8000ff"/>
<circle cx="210.90" cy="186.23" r="2.00" fill="#8000ff"/>
<path d="M80.90,240.39 L89.57,239.27 L106.90,235.01 L115.57,233.66 L124.23,231.80 L141.57,224.92 L167.57,219.84 L184.90,213.64 L210.90,208.71" stroke="#ff8000" stroke-width="1.2"/>
<path d="M89.57,236.87 l2.40,2.40 l-2.40,2.40 l-2.40,-2.40 z" fill="#ff8000"/>
<path d="M106.90,232.61 l2.40,2.40 l-2.40,2.40 l-2.40,-2.40 z" fill="#ff8000"/>
<path d="M115.57,231.26 l2.40,2.40 l-2.40,2.40 l-2.40,-2.40 z" fill="#ff8000"/>
<path d="M124.23,229.40 l2.40,2.40 l-2.40,2.40 l-2.40,-2.40 z" fill="#ff8000"/>
<path d="M141.57,222.52 l2.40,2.40 l-2.40,2.40 l-2.40,-2.40 z" fill="#ff8000"/>
<path d="M167.57,217.44 l2.40,2.40 l-2.40,2.40 l-2.40,-2.40 z" fill="#ff8000"/>
<path d="M184.90,211.24 l2.40,2.40 l-2.40,2.40 l-2.40,-2.40 z" fill="#ff8000"/>
<path d="M210.90,206.31 l2.40,2.40 l-2.40,2.40 l-2.40,-2.40 z" fill="#ff8000"/>
<path d="M80.90,240.76 L89.57,240.39 L106.90,242.10 L115.57,242.10 L124.23,241.06 L141.57,237.02 L167.57,230.08 L184.90,224.92 L210.90,218.57" stroke="#ff00ff" stroke-width="1.2"/>
<path d="M89.57,242.79 l2.40,-4.00 l-4.80,0 z" fill="#ff00ff"/>
<path d="M106.90,244.50 l2.40,-4.00 l-4.80,0 z" fill="#ff00ff"/>
<path d="M115.57,244.50 l2.40,-4.00 l-4.80,0 z" fill="#ff00ff"/>
<path d="M124.23,243.46 l2.40,-4.00 l-4.80,0 z" fill="#ff00ff"/>
<path d="M141.57,239.42 l2.40,-4.00 l-4.80,0 z" fill="#ff00ff"/>
<path d="M167.57,232.48 l2.40,-4.00 l-4.80,0 z" fill="#ff00ff"/>
<path d="M184.90,227.32 l2.40,-4.00 l-4.80,0 z" fill="#ff00ff"/>
<path d="M210.90,220.97 l2.40,-4.00 l-4.80,0 z" fill="#ff00ff"/>
<path d="M80.90,240.76 L89.57,240.39 L106.90,243.75 L115.57,243.23 L124.23,241.51 L141.57,236.65 L167.57,229.18 L184.90,223.58 L210.90,215.36" stroke="#00ffff" stroke-width="1.2"/>
<path d="M89.57,237.99 l2.40,4.00 l-4.80,0 z" fill="#00ffff"/>
<path d="M106.90,241.35 l2.40,4.00 l-4.80,0 z" fill="#00ffff"/>
<path d="M115.57,240.83 l2.40,4.00 l-4.80,0 z" fill="#00ffff"/>
<path d="M124.23,239.11 l2.40,4.00 l-4.80,0 z" fill="#00ffff"/>
<path d="M141.57,234.25 l2.40,4.00 l-4.80,0 z" fill="#00ffff"/>
<path d="M167.57,226.78 l2.40,4.00 l-4.80,0 z" fill="#00ffff"/>
<path d="M184.90,221.18 l2.40,4.00 l-4.80,0 z" fill="#00ffff"/>
<path d="M210.90,212.96 l2.40,4.00 l-4.80,0 z" fill="#00ffff"/>
<path d="M80.90,240.76 L89.57,240.39 L106.90,246.14 L115.57,245.24 L124.23,243.23 L141.57,237.47 L167.57,229.18 L184.90,223.58 L210.90,216.86" stroke="#0000ff" stroke-width="1.2"/>
<circle cx="89.57" cy="240.39" r="2.00" fill="#0000ff"/>
<circle cx="106.90" cy="246.14" r="2.00" fill="#0000ff"/>
<circle cx="115.57" cy="245.24" r="2.00" fill="#0000ff"/>
<circle cx="124.23" cy="243.23" r="2.00" fill="#0000ff"/>
<circle cx="141.57" cy="237.47" r="2.00" fill="#0000ff"/>
<circle cx="167.57" cy="229.18" r="2.00" fill="#0000ff"/>
<circle cx="184.90" cy="223.58" r="2.00" fill="#0000ff"/>
<circle cx="210.90" cy="216.86" r="2.00" fill="#0000ff"/>
<path d="M80.90,241.51 L89.57,240.16 L106.90,249.50 L115.57,248.16 L124.23,245.24 L141.57,238.29 L167.57,227.76 L184.90,220.59 L210.90,210.66" stroke="#ff0000" stroke-width="1.2"/>
<rect x="87.67" y="238.16" width="3.80" height="4.00" fill="#ff0000"/>
<rect x="105.00" y="247.50" width="3.80" height="4.00" fill="#ff0000"/>
<rect x="113.67" y="246.16" width="3.80" height="4.00" fill="#ff0000"/>
<rect x="122.33" y="243.24" width="3.80" height="4.00" fill="#ff0000"/>
<rect x="139.67" y="236.29" width="3.80" height="4.00" fill="#ff0000"/>
<rect x="165.67" y="225.76" width="3.80" height="4.00" fill="#ff0000"/>
<rect x="183.00" y="218.59" width="3.80" height="4.00" fill="#ff0000"/>
<rect x="209.00" y="208.66" width="3.80" height="4.00" fill="#ff0000"/>
<path d="M80.90,240.76 C81.77,240.74 84.66,240.61 86.10,240.61 C87.54,240.61 88.27,239.99 89.57,240.76 C90.87,241.53 92.64,243.79 93.90,245.24 C95.16,246.70 95.81,248.38 97.11,249.50 C98.41,250.62 100.07,251.52 101.70,251.96 C103.33,252.41 104.59,252.44 106.90,252.19 C109.21,251.94 112.61,251.26 115.57,250.47 C118.53,249.69 121.34,248.65 124.67,247.48 C127.99,246.31 132.11,244.94 135.50,243.45 C138.89,241.96 142.49,239.96 145.03,238.52 C147.58,237.07 149.80,235.41 150.75,234.78" stroke="#000" stroke-width="1.8"/>
</g>
<g clip-path="url(#ci)" fill="none" stroke-linejoin="round">
<path d="M80.90,240.76 C82.34,240.27 86.75,238.84 89.57,237.85 C92.38,236.85 94.91,235.92 97.80,234.78 C100.69,233.65 103.94,232.47 106.90,231.05 C109.86,229.63 112.68,228.07 115.57,226.27 C118.46,224.46 121.34,222.60 124.23,220.22 C127.12,217.84 129.97,215.05 132.90,212.00 C135.83,208.95 138.85,205.34 141.83,201.92 C144.80,198.49 147.91,194.94 150.75,191.46 C153.60,187.97 157.11,183.37 158.90,181.00 C160.69,178.63 161.07,177.89 161.50,177.26" stroke="#00f000" stroke-width="2.1"/>
</g>
<rect x="80.90" y="181.00" width="130.00" height="74.70" fill="none" stroke="#000" stroke-width="1.50"/>
<path d="M93.90,255.70 v-2.20 M93.90,181.00 v2.20 M106.90,255.70 v-3.20 M106.90,181.00 v3.20 M119.90,255.70 v-2.20 M119.90,181.00 v2.20 M132.90,255.70 v-3.20 M132.90,181.00 v3.20 M145.90,255.70 v-2.20 M145.90,181.00 v2.20 M158.90,255.70 v-3.20 M158.90,181.00 v3.20 M171.90,255.70 v-2.20 M171.90,181.00 v2.20 M184.90,255.70 v-3.20 M184.90,181.00 v3.20 M197.90,255.70 v-2.20 M197.90,181.00 v2.20 M80.90,248.23 h2.20 M210.90,248.23 h-2.20 M80.90,240.76 h3.20 M210.90,240.76 h-3.20 M80.90,233.29 h2.20 M210.90,233.29 h-2.20 M80.90,225.82 h3.20 M210.90,225.82 h-3.20 M80.90,218.35 h2.20 M210.90,218.35 h-2.20 M80.90,210.88 h3.20 M210.90,210.88 h-3.20 M80.90,203.41 h2.20 M210.90,203.41 h-2.20 M80.90,195.94 h3.20 M210.90,195.94 h-3.20 M80.90,188.47 h2.20 M210.90,188.47 h-2.20" stroke="#000" stroke-width="1.20" fill="none"/>
<path d="M107.2,207 C107.5,213 116,216.5 127,217" fill="none" stroke="#000" stroke-width="0.8"/>
<path d="M107.1,201.8 l2.0,7.0 l-4.0,0 z" fill="#000"/>
<path d="M188.6,213.4 C189.5,197 190.5,186.0 192.3,186.0 C194.8,186.0 198.8,205 200.0,226" fill="none" stroke="#000" stroke-width="0.8"/>
<path d="M200.1,232.8 l-2.1,-7.4 l4.2,0 z" fill="#000"/>
<text x="45.30" y="341.87" font-size="15.20" text-anchor="end" >80</text>
<text x="45.30" y="299.59" font-size="15.20" text-anchor="end" >85</text>
<text x="45.30" y="257.31" font-size="15.20" text-anchor="end" >90</text>
<text x="45.30" y="215.03" font-size="15.20" text-anchor="end" >95</text>
<text x="45.30" y="172.75" font-size="15.20" text-anchor="end" >100</text>
<text x="51.20" y="367.80" font-size="14.60" text-anchor="middle" >0</text>
<text x="142.41" y="367.80" font-size="14.60" text-anchor="middle" >10</text>
<text x="233.63" y="367.80" font-size="14.60" text-anchor="middle" >20</text>
<text x="324.84" y="367.80" font-size="14.60" text-anchor="middle" >30</text>
<text x="416.05" y="367.80" font-size="14.60" text-anchor="middle" >40</text>
<text x="45.30" y="541.41" font-size="14.40" text-anchor="end" >4</text>
<text x="45.30" y="495.44" font-size="14.40" text-anchor="end" >8</text>
<text x="45.30" y="449.46" font-size="14.40" text-anchor="end" >12</text>
<text x="45.30" y="403.49" font-size="14.40" text-anchor="end" >16</text>
<text x="51.30" y="577.50" font-size="14.60" text-anchor="middle" >0</text>
<text x="124.27" y="577.50" font-size="14.60" text-anchor="middle" >10</text>
<text x="197.24" y="577.50" font-size="14.60" text-anchor="middle" >20</text>
<text x="270.21" y="577.50" font-size="14.60" text-anchor="middle" >30</text>
<text x="343.18" y="577.50" font-size="14.60" text-anchor="middle" >40</text>
<text x="416.15" y="577.50" font-size="14.60" text-anchor="middle" >50</text>
<text x="241.60" y="602.60" font-size="20.40" text-anchor="middle" >T (K)</text>
<text class="l" transform="translate(21.90,256.80) rotate(-90)" text-anchor="middle" font-size="18.5" textLength="84.6" lengthAdjust="spacingAndGlyphs" style="font-family:'Liberation Serif',serif"><tspan style="font-family:'Liberation Sans',sans-serif">ρ</tspan> (μΩ cm)</text>
<text class="l" transform="translate(22.20,474.30) rotate(-90)" text-anchor="middle" font-size="18.5" textLength="83.5" lengthAdjust="spacingAndGlyphs" style="font-family:'Liberation Serif',serif"><tspan style="font-family:'Liberation Sans',sans-serif">ρ</tspan> (μΩ cm)</text>
<text x="385.50" y="191.70" font-size="15.00" text-anchor="middle" >(a)</text>
<text x="384.00" y="420.20" font-size="15.00" text-anchor="middle" >(b)</text>
<path d="M308.90,287.00 H338.20" stroke="#000000" stroke-width="1.5"/>
<text x="341.50" y="291.70" font-size="13.00" text-anchor="start" >0T</text>
<path d="M359.10,287.00 H388.40" stroke="#008000" stroke-width="1.5"/>
<text x="392.20" y="291.70" font-size="13.00" text-anchor="start" >7</text>
<path d="M308.90,302.30 H338.20" stroke="#ff0000" stroke-width="1.5" stroke-dasharray="5.8 2.1 1.3 2.1"/>
<text x="341.50" y="307.00" font-size="13.00" text-anchor="start" >1</text>
<path d="M359.10,302.30 H388.40" stroke="#ff8000" stroke-width="1.5" stroke-dasharray="5.8 2.1 1.3 2.1"/>
<text x="392.20" y="307.00" font-size="13.00" text-anchor="start" >10</text>
<path d="M308.90,318.30 H338.20" stroke="#0000ff" stroke-width="1.5"/>
<text x="341.50" y="323.00" font-size="13.00" text-anchor="start" >3</text>
<path d="M359.10,318.30 H388.40" stroke="#8000ff" stroke-width="1.5"/>
<text x="392.20" y="323.00" font-size="13.00" text-anchor="start" >12</text>
<path d="M308.90,334.10 H338.20" stroke="#00ffff" stroke-width="1.5" stroke-dasharray="5.8 2.1 1.3 2.1"/>
<text x="341.50" y="338.80" font-size="13.00" text-anchor="start" >5</text>
<path d="M359.10,334.10 H388.40" stroke="#808080" stroke-width="1.5" stroke-dasharray="5.8 2.1 1.3 2.1"/>
<text x="392.20" y="338.80" font-size="13.00" text-anchor="start" >15</text>
<path d="M215.1,179.60 H236.8" stroke="#8000ff" stroke-width="1.10"/>
<circle cx="225.90" cy="179.60" r="2.00" fill="#8000ff"/>
<text x="239.30" y="183.10" font-size="9.90" text-anchor="start" class="l" textLength="16.7" lengthAdjust="spacingAndGlyphs">30K</text>
<path d="M215.1,191.20 H236.8" stroke="#ff8000" stroke-width="1.10"/>
<path d="M225.90,188.80 l2.40,2.40 l-2.40,2.40 l-2.40,-2.40 z" fill="#ff8000"/>
<text x="239.30" y="194.70" font-size="9.90" text-anchor="start" class="l" textLength="10.0" lengthAdjust="spacingAndGlyphs">20</text>
<path d="M215.1,202.60 H236.8" stroke="#ff00ff" stroke-width="1.10"/>
<path d="M225.90,205.00 l2.40,-4.00 l-4.80,0 z" fill="#ff00ff"/>
<text x="239.30" y="206.10" font-size="9.90" text-anchor="start" class="l" textLength="10.0" lengthAdjust="spacingAndGlyphs">15</text>
<path d="M215.1,214.00 H236.8" stroke="#00ffff" stroke-width="1.10"/>
<path d="M225.90,211.60 l2.40,4.00 l-4.80,0 z" fill="#00ffff"/>
<text x="239.30" y="217.50" font-size="9.90" text-anchor="start" class="l" textLength="10.0" lengthAdjust="spacingAndGlyphs">13</text>
<path d="M215.1,225.50 H236.8" stroke="#0000ff" stroke-width="1.10"/>
<circle cx="225.90" cy="225.50" r="2.00" fill="#0000ff"/>
<text x="239.30" y="229.00" font-size="9.90" text-anchor="start" class="l" textLength="10.0" lengthAdjust="spacingAndGlyphs">12</text>
<path d="M215.1,237.30 H236.8" stroke="#ff0000" stroke-width="1.10"/>
<rect x="224.00" y="235.30" width="3.80" height="4.00" fill="#ff0000"/>
<text x="239.30" y="240.80" font-size="9.90" text-anchor="start" class="l" textLength="5.0" lengthAdjust="spacingAndGlyphs">5</text>
<path d="M215.1,249.00 H236.8" stroke="#000000" stroke-width="1.60"/>
<text x="239.30" y="252.50" font-size="9.90" text-anchor="start" class="l" textLength="12.6" lengthAdjust="spacingAndGlyphs">0.3</text>
<path d="M258.0,179.6 H279.5" stroke="#00f000" stroke-width="1.6"/>
<text x="282.60" y="183.10" font-size="9.90" text-anchor="start" class="l" textLength="16.7" lengthAdjust="spacingAndGlyphs">50K</text>
<text class="l" transform="translate(77.10,259.30) scale(0.880,1)" font-size="11.00" text-anchor="end">-2</text>
<text class="l" transform="translate(77.10,244.36) scale(0.880,1)" font-size="11.00" text-anchor="end">0</text>
<text class="l" transform="translate(77.10,229.42) scale(0.880,1)" font-size="11.00" text-anchor="end">2</text>
<text class="l" transform="translate(77.10,214.48) scale(0.880,1)" font-size="11.00" text-anchor="end">4</text>
<text class="l" transform="translate(77.10,199.54) scale(0.880,1)" font-size="11.00" text-anchor="end">6</text>
<text class="l" transform="translate(77.10,184.60) scale(0.880,1)" font-size="11.00" text-anchor="end">8</text>
<text class="l" transform="translate(79.40,267.80) scale(0.860,1)" font-size="11.00" text-anchor="middle">0</text>
<text class="l" transform="translate(105.40,267.80) scale(0.860,1)" font-size="11.00" text-anchor="middle">3</text>
<text class="l" transform="translate(131.40,267.80) scale(0.860,1)" font-size="11.00" text-anchor="middle">6</text>
<text class="l" transform="translate(157.40,267.80) scale(0.860,1)" font-size="11.00" text-anchor="middle">9</text>
<text class="l" transform="translate(183.40,267.80) scale(0.860,1)" font-size="11.00" text-anchor="middle">12</text>
<text class="l" transform="translate(209.40,267.80) scale(0.860,1)" font-size="11.00" text-anchor="middle">15</text>
<text class="l" x="142.8" y="280.0" font-size="12.4" text-anchor="middle" textLength="36" lengthAdjust="spacingAndGlyphs">μ<tspan font-size="7.5" dy="2.5">0</tspan><tspan dy="-2.5">H (T)</tspan></text>
<text class="n" transform="translate(64.7,218.5) rotate(-90)" font-size="12" text-anchor="middle" style="font-family:'Liberation Serif',serif">Δρ/ρ(0) (%)</text>
<text class="n" transform="translate(88.8,199.3) scale(0.96,1)" font-size="9.8" text-anchor="start">CePd<tspan font-size="6" dy="2.6">2</tspan><tspan dy="-2.6">P</tspan><tspan font-size="6" dy="2.6">2</tspan></text>
<text class="n" transform="translate(168.9,241.5) scale(0.96,1)" font-size="9.8" text-anchor="start">CePd<tspan font-size="6" dy="2.6">2</tspan><tspan dy="-2.6">As</tspan><tspan font-size="6" dy="2.6">2</tspan></text>
</svg>
</body></html>
